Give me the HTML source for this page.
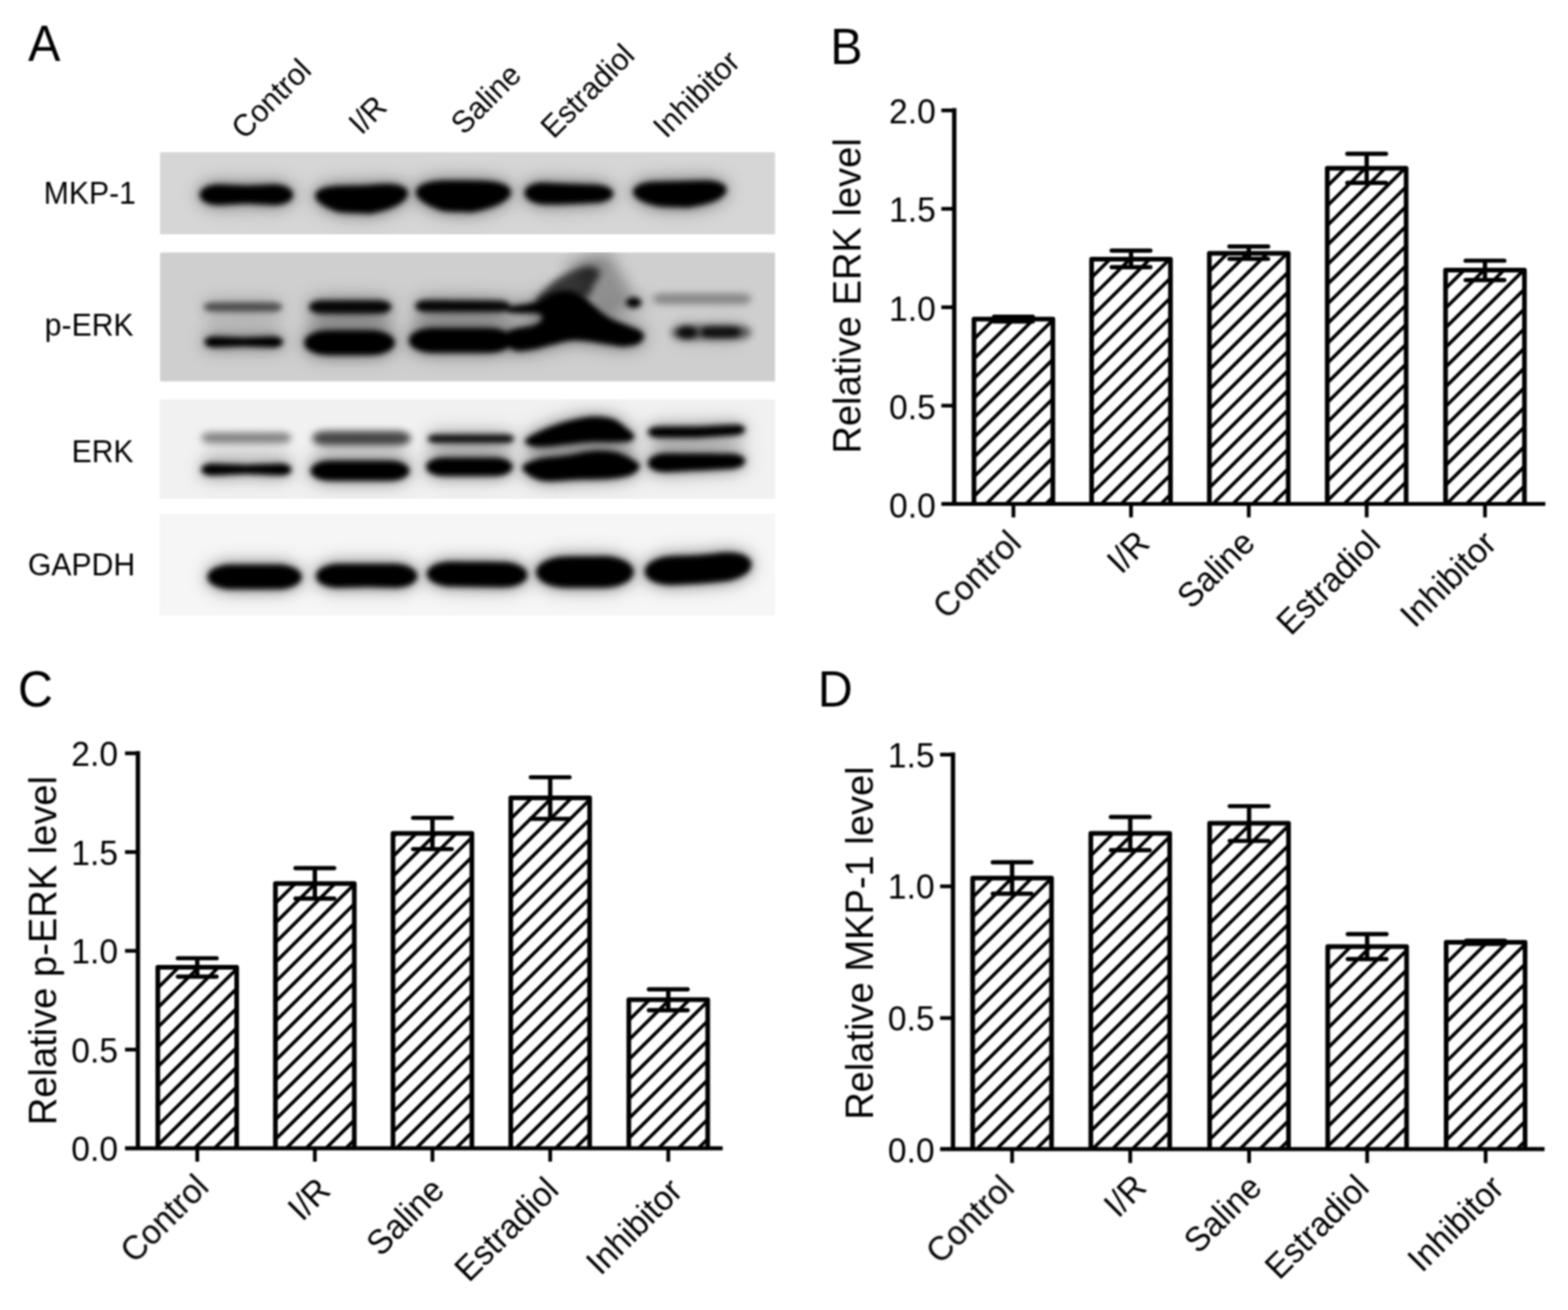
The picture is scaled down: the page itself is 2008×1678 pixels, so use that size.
<!DOCTYPE html>
<html lang="en"><head><meta charset="utf-8"><title>Figure: MKP-1, p-ERK and ERK levels</title>
<style>html,body{margin:0;padding:0;background:#fff;}body{width:2008px;height:1678px;overflow:hidden;}svg{display:block;}text{font-family:"Liberation Sans", sans-serif;fill:#000;}</style></head><body>
<svg width="2008" height="1678" viewBox="0 0 2008 1678">
<rect width="2008" height="1678" fill="#fff"/>
<defs><filter id="soft" filterUnits="userSpaceOnUse" x="0" y="0" width="2008" height="1678"><feGaussianBlur stdDeviation="0.8"/></filter></defs>
<defs><filter id="b2" filterUnits="userSpaceOnUse" x="150" y="150" width="900" height="680"><feGaussianBlur stdDeviation="2.6"/></filter><filter id="b3" filterUnits="userSpaceOnUse" x="150" y="150" width="900" height="680"><feGaussianBlur stdDeviation="3.5"/></filter><filter id="b5" filterUnits="userSpaceOnUse" x="150" y="150" width="900" height="680"><feGaussianBlur stdDeviation="5"/></filter><filter id="b9" filterUnits="userSpaceOnUse" x="150" y="150" width="900" height="680"><feGaussianBlur stdDeviation="9"/></filter><filter id="b16" filterUnits="userSpaceOnUse" x="150" y="150" width="900" height="680"><feGaussianBlur stdDeviation="15"/></filter><filter id="be" x="-5%" y="-5%" width="110%" height="110%"><feGaussianBlur stdDeviation="0.8"/></filter></defs><clipPath id="ks1"><rect x="205" y="195" width="787.5" height="105"/></clipPath><rect x="205" y="195" width="787.5" height="105" fill="#d6d6d6" filter="url(#be)"/><g clip-path="url(#ks1)"><g filter="url(#b16)" opacity="0.3"><path d="M255.5 249.5L257.0 245.0L258.5 243.2L259.9 242.0L260.0 241.9L261.5 240.9L263.0 240.1L264.4 239.4L264.5 239.4L266.0 238.8L267.5 238.3L268.8 237.9L273.3 237.0L277.7 236.6L282.2 236.6L286.6 236.8L291.1 237.0L295.5 237.2L299.9 237.4L304.4 237.5L308.8 237.7L313.3 237.9L317.7 237.9L322.2 237.7L326.6 237.5L331.1 237.4L335.5 237.2L339.9 237.0L344.4 236.8L348.8 236.6L353.3 236.6L357.7 237.0L362.2 237.9L363.5 238.3L365.0 238.8L366.5 239.4L366.6 239.4L368.0 240.1L369.5 240.9L371.0 241.9L371.1 242.0L372.5 243.2L374.0 245.0L375.5 249.5L375.5 249.5L374.0 254.0L372.5 255.8L371.1 257.0L371.0 257.0L369.5 258.0L368.0 258.9L366.6 259.5L366.5 259.6L365.0 260.2L363.5 260.6L362.2 261.0L357.7 261.9L353.3 262.3L348.8 262.2L344.4 261.9L339.9 261.7L335.5 261.5L331.1 261.3L326.6 261.1L322.2 260.8L317.7 260.6L313.3 260.6L308.8 260.8L304.4 261.1L299.9 261.3L295.5 261.5L291.1 261.7L286.6 261.9L282.2 262.2L277.7 262.3L273.3 261.9L268.8 261.0L267.5 260.6L266.0 260.2L264.5 259.6L264.4 259.5L263.0 258.9L261.5 258.0L260.0 257.0L259.9 257.0L258.5 255.8L257.0 254.0L255.5 249.5Z" fill="#000" opacity="1"/><path d="M403.5 250.5L405.0 246.5L406.5 245.0L407.9 244.0L408.0 244.0L409.4 243.1L410.9 242.4L412.3 241.9L412.4 241.8L413.9 241.3L415.4 240.9L416.7 240.5L421.1 239.6L425.5 239.0L429.9 238.5L434.4 238.3L438.8 238.2L443.2 238.2L447.6 238.1L452.0 238.1L456.4 238.1L460.8 238.0L465.2 237.8L469.6 237.5L474.0 237.2L478.4 236.8L482.8 236.5L487.2 236.2L491.6 235.9L496.1 235.8L500.5 235.9L504.9 236.4L509.3 237.1L510.6 237.5L512.1 237.9L513.6 238.4L513.7 238.4L515.1 239.0L516.5 239.7L518.0 240.5L518.1 240.6L519.5 241.6L521.0 243.2L522.5 247.5L522.5 247.5L521.0 252.3L519.5 254.3L518.1 255.9L518.0 255.9L516.5 257.3L515.1 258.5L513.7 259.5L513.6 259.5L512.1 260.5L510.6 261.4L509.3 262.2L504.9 264.4L500.5 266.3L496.1 267.9L491.6 269.2L487.2 270.4L482.8 271.5L478.4 272.6L474.0 273.5L469.6 273.2L465.2 273.0L460.8 272.8L456.4 272.6L452.0 272.4L447.6 272.2L443.2 272.0L438.8 271.8L434.4 271.5L429.9 270.2L425.5 268.5L421.1 266.6L416.7 264.4L415.4 263.6L413.9 262.7L412.4 261.8L412.3 261.7L410.9 260.8L409.4 259.6L408.0 258.3L407.9 258.3L406.5 256.8L405.0 254.9L403.5 250.5Z" fill="#000" opacity="1"/><path d="M532.5 246.0L534.0 241.5L535.5 239.8L537.0 238.7L537.1 238.6L538.6 237.7L540.1 236.8L541.5 236.2L541.6 236.2L543.2 235.5L544.7 235.0L546.1 234.6L550.6 233.5L555.1 232.7L559.6 232.1L564.1 231.7L568.6 231.5L573.2 231.5L577.7 231.5L582.2 231.5L586.7 231.5L591.2 231.5L595.8 231.5L600.3 231.6L604.8 231.7L609.3 231.8L613.8 231.8L618.4 231.9L622.9 232.1L627.4 232.4L631.9 233.0L636.4 233.8L640.9 234.9L642.3 235.3L643.8 235.8L645.4 236.4L645.5 236.4L646.9 237.1L648.4 237.9L649.9 238.8L650.0 238.9L651.5 240.0L653.0 241.7L654.5 246.0L654.5 246.0L653.0 250.7L651.5 252.7L650.0 254.2L649.9 254.2L648.4 255.5L646.9 256.7L645.5 257.6L645.4 257.7L643.8 258.7L642.3 259.5L640.9 260.3L636.4 262.4L631.9 264.2L627.4 265.8L622.9 267.2L618.4 268.4L613.8 269.5L609.3 270.6L604.8 271.5L600.3 271.4L595.8 271.2L591.2 271.1L586.7 271.0L582.2 270.9L577.7 270.7L573.2 270.6L568.6 270.3L564.1 268.9L559.6 267.3L555.1 265.5L550.6 263.5L546.1 261.1L544.7 260.3L543.2 259.4L541.6 258.3L541.5 258.3L540.1 257.2L538.6 256.0L537.1 254.6L537.0 254.6L535.5 253.0L534.0 250.9L532.5 246.0Z" fill="#000" opacity="1"/><path d="M671.5 247.0L672.9 242.6L674.4 240.8L675.7 239.6L675.8 239.6L677.2 238.6L678.6 237.8L679.9 237.2L680.0 237.1L681.5 236.5L682.9 236.0L684.2 235.7L688.4 234.7L692.6 234.3L696.8 234.2L701.1 234.4L705.3 234.7L709.5 235.0L713.7 235.3L717.9 235.5L722.2 235.6L726.4 235.8L730.6 235.9L734.8 236.0L739.1 236.1L743.3 236.3L747.5 236.4L751.7 236.5L755.9 236.6L760.2 236.8L764.4 236.9L768.6 237.3L772.8 238.2L774.1 238.5L775.5 238.9L777.0 239.5L777.1 239.5L778.4 240.1L779.8 240.8L781.2 241.6L781.3 241.7L782.6 242.7L784.1 244.2L785.5 248.0L785.5 248.0L784.1 251.8L782.6 253.3L781.3 254.4L781.2 254.4L779.8 255.3L778.4 256.1L777.1 256.6L777.0 256.7L775.5 257.2L774.1 257.7L772.8 258.0L768.6 258.9L764.4 259.4L760.2 259.6L755.9 259.8L751.7 260.0L747.5 260.2L743.3 260.4L739.1 260.5L734.8 260.7L730.6 260.9L726.4 261.1L722.2 261.3L717.9 261.5L713.7 261.5L709.5 261.5L705.3 261.5L701.1 261.5L696.8 261.5L692.6 261.1L688.4 260.4L684.2 259.2L682.9 258.7L681.5 258.1L680.0 257.4L679.9 257.4L678.6 256.7L677.2 255.8L675.8 254.7L675.7 254.6L674.4 253.3L672.9 251.5L671.5 247.0Z" fill="#000" opacity="1"/><path d="M810.5 245.5L812.0 241.4L813.5 239.9L814.9 238.8L815.0 238.8L816.5 237.9L818.0 237.1L819.4 236.5L819.5 236.5L821.0 235.9L822.5 235.5L823.8 235.1L828.3 234.1L832.7 233.5L837.2 233.1L841.6 233.0L846.1 232.9L850.5 232.8L854.9 232.8L859.4 232.7L863.8 232.6L868.3 232.5L872.7 232.4L877.2 232.3L881.6 232.1L886.1 232.0L890.5 231.8L894.9 231.7L899.4 231.5L903.8 231.5L908.3 231.6L912.7 232.1L917.2 232.9L918.5 233.2L920.0 233.6L921.5 234.1L921.6 234.2L923.0 234.7L924.5 235.4L926.0 236.3L926.1 236.3L927.5 237.4L929.0 238.9L930.5 243.0L930.5 243.0L929.0 247.5L927.5 249.4L926.1 250.8L926.0 250.8L924.5 252.0L923.0 253.1L921.6 254.0L921.5 254.1L920.0 254.9L918.5 255.7L917.2 256.3L912.7 258.2L908.3 259.7L903.8 261.0L899.4 262.0L894.9 262.9L890.5 263.8L886.1 264.8L881.6 265.5L877.2 265.4L872.7 265.2L868.3 265.1L863.8 265.0L859.4 264.9L854.9 264.7L850.5 264.6L846.1 264.4L841.6 263.5L837.2 262.6L832.7 261.5L828.3 260.0L823.8 258.3L822.5 257.7L821.0 256.9L819.5 256.1L819.4 256.0L818.0 255.2L816.5 254.2L815.0 253.0L814.9 253.0L813.5 251.7L812.0 249.8L810.5 245.5Z" fill="#000" opacity="1"/></g><g filter="url(#b9)" opacity="0.38"><path d="M255.5 249.5L257.0 245.0L258.5 243.2L259.9 242.0L260.0 241.9L261.5 240.9L263.0 240.1L264.4 239.4L264.5 239.4L266.0 238.8L267.5 238.3L268.8 237.9L273.3 237.0L277.7 236.6L282.2 236.6L286.6 236.8L291.1 237.0L295.5 237.2L299.9 237.4L304.4 237.5L308.8 237.7L313.3 237.9L317.7 237.9L322.2 237.7L326.6 237.5L331.1 237.4L335.5 237.2L339.9 237.0L344.4 236.8L348.8 236.6L353.3 236.6L357.7 237.0L362.2 237.9L363.5 238.3L365.0 238.8L366.5 239.4L366.6 239.4L368.0 240.1L369.5 240.9L371.0 241.9L371.1 242.0L372.5 243.2L374.0 245.0L375.5 249.5L375.5 249.5L374.0 254.0L372.5 255.8L371.1 257.0L371.0 257.0L369.5 258.0L368.0 258.9L366.6 259.5L366.5 259.6L365.0 260.2L363.5 260.6L362.2 261.0L357.7 261.9L353.3 262.3L348.8 262.2L344.4 261.9L339.9 261.7L335.5 261.5L331.1 261.3L326.6 261.1L322.2 260.8L317.7 260.6L313.3 260.6L308.8 260.8L304.4 261.1L299.9 261.3L295.5 261.5L291.1 261.7L286.6 261.9L282.2 262.2L277.7 262.3L273.3 261.9L268.8 261.0L267.5 260.6L266.0 260.2L264.5 259.6L264.4 259.5L263.0 258.9L261.5 258.0L260.0 257.0L259.9 257.0L258.5 255.8L257.0 254.0L255.5 249.5Z" fill="#000" opacity="1"/><path d="M403.5 250.5L405.0 246.5L406.5 245.0L407.9 244.0L408.0 244.0L409.4 243.1L410.9 242.4L412.3 241.9L412.4 241.8L413.9 241.3L415.4 240.9L416.7 240.5L421.1 239.6L425.5 239.0L429.9 238.5L434.4 238.3L438.8 238.2L443.2 238.2L447.6 238.1L452.0 238.1L456.4 238.1L460.8 238.0L465.2 237.8L469.6 237.5L474.0 237.2L478.4 236.8L482.8 236.5L487.2 236.2L491.6 235.9L496.1 235.8L500.5 235.9L504.9 236.4L509.3 237.1L510.6 237.5L512.1 237.9L513.6 238.4L513.7 238.4L515.1 239.0L516.5 239.7L518.0 240.5L518.1 240.6L519.5 241.6L521.0 243.2L522.5 247.5L522.5 247.5L521.0 252.3L519.5 254.3L518.1 255.9L518.0 255.9L516.5 257.3L515.1 258.5L513.7 259.5L513.6 259.5L512.1 260.5L510.6 261.4L509.3 262.2L504.9 264.4L500.5 266.3L496.1 267.9L491.6 269.2L487.2 270.4L482.8 271.5L478.4 272.6L474.0 273.5L469.6 273.2L465.2 273.0L460.8 272.8L456.4 272.6L452.0 272.4L447.6 272.2L443.2 272.0L438.8 271.8L434.4 271.5L429.9 270.2L425.5 268.5L421.1 266.6L416.7 264.4L415.4 263.6L413.9 262.7L412.4 261.8L412.3 261.7L410.9 260.8L409.4 259.6L408.0 258.3L407.9 258.3L406.5 256.8L405.0 254.9L403.5 250.5Z" fill="#000" opacity="1"/><path d="M532.5 246.0L534.0 241.5L535.5 239.8L537.0 238.7L537.1 238.6L538.6 237.7L540.1 236.8L541.5 236.2L541.6 236.2L543.2 235.5L544.7 235.0L546.1 234.6L550.6 233.5L555.1 232.7L559.6 232.1L564.1 231.7L568.6 231.5L573.2 231.5L577.7 231.5L582.2 231.5L586.7 231.5L591.2 231.5L595.8 231.5L600.3 231.6L604.8 231.7L609.3 231.8L613.8 231.8L618.4 231.9L622.9 232.1L627.4 232.4L631.9 233.0L636.4 233.8L640.9 234.9L642.3 235.3L643.8 235.8L645.4 236.4L645.5 236.4L646.9 237.1L648.4 237.9L649.9 238.8L650.0 238.9L651.5 240.0L653.0 241.7L654.5 246.0L654.5 246.0L653.0 250.7L651.5 252.7L650.0 254.2L649.9 254.2L648.4 255.5L646.9 256.7L645.5 257.6L645.4 257.7L643.8 258.7L642.3 259.5L640.9 260.3L636.4 262.4L631.9 264.2L627.4 265.8L622.9 267.2L618.4 268.4L613.8 269.5L609.3 270.6L604.8 271.5L600.3 271.4L595.8 271.2L591.2 271.1L586.7 271.0L582.2 270.9L577.7 270.7L573.2 270.6L568.6 270.3L564.1 268.9L559.6 267.3L555.1 265.5L550.6 263.5L546.1 261.1L544.7 260.3L543.2 259.4L541.6 258.3L541.5 258.3L540.1 257.2L538.6 256.0L537.1 254.6L537.0 254.6L535.5 253.0L534.0 250.9L532.5 246.0Z" fill="#000" opacity="1"/><path d="M671.5 247.0L672.9 242.6L674.4 240.8L675.7 239.6L675.8 239.6L677.2 238.6L678.6 237.8L679.9 237.2L680.0 237.1L681.5 236.5L682.9 236.0L684.2 235.7L688.4 234.7L692.6 234.3L696.8 234.2L701.1 234.4L705.3 234.7L709.5 235.0L713.7 235.3L717.9 235.5L722.2 235.6L726.4 235.8L730.6 235.9L734.8 236.0L739.1 236.1L743.3 236.3L747.5 236.4L751.7 236.5L755.9 236.6L760.2 236.8L764.4 236.9L768.6 237.3L772.8 238.2L774.1 238.5L775.5 238.9L777.0 239.5L777.1 239.5L778.4 240.1L779.8 240.8L781.2 241.6L781.3 241.7L782.6 242.7L784.1 244.2L785.5 248.0L785.5 248.0L784.1 251.8L782.6 253.3L781.3 254.4L781.2 254.4L779.8 255.3L778.4 256.1L777.1 256.6L777.0 256.7L775.5 257.2L774.1 257.7L772.8 258.0L768.6 258.9L764.4 259.4L760.2 259.6L755.9 259.8L751.7 260.0L747.5 260.2L743.3 260.4L739.1 260.5L734.8 260.7L730.6 260.9L726.4 261.1L722.2 261.3L717.9 261.5L713.7 261.5L709.5 261.5L705.3 261.5L701.1 261.5L696.8 261.5L692.6 261.1L688.4 260.4L684.2 259.2L682.9 258.7L681.5 258.1L680.0 257.4L679.9 257.4L678.6 256.7L677.2 255.8L675.8 254.7L675.7 254.6L674.4 253.3L672.9 251.5L671.5 247.0Z" fill="#000" opacity="1"/><path d="M810.5 245.5L812.0 241.4L813.5 239.9L814.9 238.8L815.0 238.8L816.5 237.9L818.0 237.1L819.4 236.5L819.5 236.5L821.0 235.9L822.5 235.5L823.8 235.1L828.3 234.1L832.7 233.5L837.2 233.1L841.6 233.0L846.1 232.9L850.5 232.8L854.9 232.8L859.4 232.7L863.8 232.6L868.3 232.5L872.7 232.4L877.2 232.3L881.6 232.1L886.1 232.0L890.5 231.8L894.9 231.7L899.4 231.5L903.8 231.5L908.3 231.6L912.7 232.1L917.2 232.9L918.5 233.2L920.0 233.6L921.5 234.1L921.6 234.2L923.0 234.7L924.5 235.4L926.0 236.3L926.1 236.3L927.5 237.4L929.0 238.9L930.5 243.0L930.5 243.0L929.0 247.5L927.5 249.4L926.1 250.8L926.0 250.8L924.5 252.0L923.0 253.1L921.6 254.0L921.5 254.1L920.0 254.9L918.5 255.7L917.2 256.3L912.7 258.2L908.3 259.7L903.8 261.0L899.4 262.0L894.9 262.9L890.5 263.8L886.1 264.8L881.6 265.5L877.2 265.4L872.7 265.2L868.3 265.1L863.8 265.0L859.4 264.9L854.9 264.7L850.5 264.6L846.1 264.4L841.6 263.5L837.2 262.6L832.7 261.5L828.3 260.0L823.8 258.3L822.5 257.7L821.0 256.9L819.5 256.1L819.4 256.0L818.0 255.2L816.5 254.2L815.0 253.0L814.9 253.0L813.5 251.7L812.0 249.8L810.5 245.5Z" fill="#000" opacity="1"/></g><g filter="url(#b3)"><path d="M255.5 249.5L257.0 245.0L258.5 243.2L259.9 242.0L260.0 241.9L261.5 240.9L263.0 240.1L264.4 239.4L264.5 239.4L266.0 238.8L267.5 238.3L268.8 237.9L273.3 237.0L277.7 236.6L282.2 236.6L286.6 236.8L291.1 237.0L295.5 237.2L299.9 237.4L304.4 237.5L308.8 237.7L313.3 237.9L317.7 237.9L322.2 237.7L326.6 237.5L331.1 237.4L335.5 237.2L339.9 237.0L344.4 236.8L348.8 236.6L353.3 236.6L357.7 237.0L362.2 237.9L363.5 238.3L365.0 238.8L366.5 239.4L366.6 239.4L368.0 240.1L369.5 240.9L371.0 241.9L371.1 242.0L372.5 243.2L374.0 245.0L375.5 249.5L375.5 249.5L374.0 254.0L372.5 255.8L371.1 257.0L371.0 257.0L369.5 258.0L368.0 258.9L366.6 259.5L366.5 259.6L365.0 260.2L363.5 260.6L362.2 261.0L357.7 261.9L353.3 262.3L348.8 262.2L344.4 261.9L339.9 261.7L335.5 261.5L331.1 261.3L326.6 261.1L322.2 260.8L317.7 260.6L313.3 260.6L308.8 260.8L304.4 261.1L299.9 261.3L295.5 261.5L291.1 261.7L286.6 261.9L282.2 262.2L277.7 262.3L273.3 261.9L268.8 261.0L267.5 260.6L266.0 260.2L264.5 259.6L264.4 259.5L263.0 258.9L261.5 258.0L260.0 257.0L259.9 257.0L258.5 255.8L257.0 254.0L255.5 249.5Z" fill="#000" opacity="1"/><path d="M403.5 250.5L405.0 246.5L406.5 245.0L407.9 244.0L408.0 244.0L409.4 243.1L410.9 242.4L412.3 241.9L412.4 241.8L413.9 241.3L415.4 240.9L416.7 240.5L421.1 239.6L425.5 239.0L429.9 238.5L434.4 238.3L438.8 238.2L443.2 238.2L447.6 238.1L452.0 238.1L456.4 238.1L460.8 238.0L465.2 237.8L469.6 237.5L474.0 237.2L478.4 236.8L482.8 236.5L487.2 236.2L491.6 235.9L496.1 235.8L500.5 235.9L504.9 236.4L509.3 237.1L510.6 237.5L512.1 237.9L513.6 238.4L513.7 238.4L515.1 239.0L516.5 239.7L518.0 240.5L518.1 240.6L519.5 241.6L521.0 243.2L522.5 247.5L522.5 247.5L521.0 252.3L519.5 254.3L518.1 255.9L518.0 255.9L516.5 257.3L515.1 258.5L513.7 259.5L513.6 259.5L512.1 260.5L510.6 261.4L509.3 262.2L504.9 264.4L500.5 266.3L496.1 267.9L491.6 269.2L487.2 270.4L482.8 271.5L478.4 272.6L474.0 273.5L469.6 273.2L465.2 273.0L460.8 272.8L456.4 272.6L452.0 272.4L447.6 272.2L443.2 272.0L438.8 271.8L434.4 271.5L429.9 270.2L425.5 268.5L421.1 266.6L416.7 264.4L415.4 263.6L413.9 262.7L412.4 261.8L412.3 261.7L410.9 260.8L409.4 259.6L408.0 258.3L407.9 258.3L406.5 256.8L405.0 254.9L403.5 250.5Z" fill="#000" opacity="1"/><path d="M532.5 246.0L534.0 241.5L535.5 239.8L537.0 238.7L537.1 238.6L538.6 237.7L540.1 236.8L541.5 236.2L541.6 236.2L543.2 235.5L544.7 235.0L546.1 234.6L550.6 233.5L555.1 232.7L559.6 232.1L564.1 231.7L568.6 231.5L573.2 231.5L577.7 231.5L582.2 231.5L586.7 231.5L591.2 231.5L595.8 231.5L600.3 231.6L604.8 231.7L609.3 231.8L613.8 231.8L618.4 231.9L622.9 232.1L627.4 232.4L631.9 233.0L636.4 233.8L640.9 234.9L642.3 235.3L643.8 235.8L645.4 236.4L645.5 236.4L646.9 237.1L648.4 237.9L649.9 238.8L650.0 238.9L651.5 240.0L653.0 241.7L654.5 246.0L654.5 246.0L653.0 250.7L651.5 252.7L650.0 254.2L649.9 254.2L648.4 255.5L646.9 256.7L645.5 257.6L645.4 257.7L643.8 258.7L642.3 259.5L640.9 260.3L636.4 262.4L631.9 264.2L627.4 265.8L622.9 267.2L618.4 268.4L613.8 269.5L609.3 270.6L604.8 271.5L600.3 271.4L595.8 271.2L591.2 271.1L586.7 271.0L582.2 270.9L577.7 270.7L573.2 270.6L568.6 270.3L564.1 268.9L559.6 267.3L555.1 265.5L550.6 263.5L546.1 261.1L544.7 260.3L543.2 259.4L541.6 258.3L541.5 258.3L540.1 257.2L538.6 256.0L537.1 254.6L537.0 254.6L535.5 253.0L534.0 250.9L532.5 246.0Z" fill="#000" opacity="1"/><path d="M671.5 247.0L672.9 242.6L674.4 240.8L675.7 239.6L675.8 239.6L677.2 238.6L678.6 237.8L679.9 237.2L680.0 237.1L681.5 236.5L682.9 236.0L684.2 235.7L688.4 234.7L692.6 234.3L696.8 234.2L701.1 234.4L705.3 234.7L709.5 235.0L713.7 235.3L717.9 235.5L722.2 235.6L726.4 235.8L730.6 235.9L734.8 236.0L739.1 236.1L743.3 236.3L747.5 236.4L751.7 236.5L755.9 236.6L760.2 236.8L764.4 236.9L768.6 237.3L772.8 238.2L774.1 238.5L775.5 238.9L777.0 239.5L777.1 239.5L778.4 240.1L779.8 240.8L781.2 241.6L781.3 241.7L782.6 242.7L784.1 244.2L785.5 248.0L785.5 248.0L784.1 251.8L782.6 253.3L781.3 254.4L781.2 254.4L779.8 255.3L778.4 256.1L777.1 256.6L777.0 256.7L775.5 257.2L774.1 257.7L772.8 258.0L768.6 258.9L764.4 259.4L760.2 259.6L755.9 259.8L751.7 260.0L747.5 260.2L743.3 260.4L739.1 260.5L734.8 260.7L730.6 260.9L726.4 261.1L722.2 261.3L717.9 261.5L713.7 261.5L709.5 261.5L705.3 261.5L701.1 261.5L696.8 261.5L692.6 261.1L688.4 260.4L684.2 259.2L682.9 258.7L681.5 258.1L680.0 257.4L679.9 257.4L678.6 256.7L677.2 255.8L675.8 254.7L675.7 254.6L674.4 253.3L672.9 251.5L671.5 247.0Z" fill="#000" opacity="1"/><path d="M810.5 245.5L812.0 241.4L813.5 239.9L814.9 238.8L815.0 238.8L816.5 237.9L818.0 237.1L819.4 236.5L819.5 236.5L821.0 235.9L822.5 235.5L823.8 235.1L828.3 234.1L832.7 233.5L837.2 233.1L841.6 233.0L846.1 232.9L850.5 232.8L854.9 232.8L859.4 232.7L863.8 232.6L868.3 232.5L872.7 232.4L877.2 232.3L881.6 232.1L886.1 232.0L890.5 231.8L894.9 231.7L899.4 231.5L903.8 231.5L908.3 231.6L912.7 232.1L917.2 232.9L918.5 233.2L920.0 233.6L921.5 234.1L921.6 234.2L923.0 234.7L924.5 235.4L926.0 236.3L926.1 236.3L927.5 237.4L929.0 238.9L930.5 243.0L930.5 243.0L929.0 247.5L927.5 249.4L926.1 250.8L926.0 250.8L924.5 252.0L923.0 253.1L921.6 254.0L921.5 254.1L920.0 254.9L918.5 255.7L917.2 256.3L912.7 258.2L908.3 259.7L903.8 261.0L899.4 262.0L894.9 262.9L890.5 263.8L886.1 264.8L881.6 265.5L877.2 265.4L872.7 265.2L868.3 265.1L863.8 265.0L859.4 264.9L854.9 264.7L850.5 264.6L846.1 264.4L841.6 263.5L837.2 262.6L832.7 261.5L828.3 260.0L823.8 258.3L822.5 257.7L821.0 256.9L819.5 256.1L819.4 256.0L818.0 255.2L816.5 254.2L815.0 253.0L814.9 253.0L813.5 251.7L812.0 249.8L810.5 245.5Z" fill="#000" opacity="1"/></g></g><clipPath id="ks2"><rect x="205" y="323.5" width="787.5" height="165"/></clipPath><rect x="205" y="323.5" width="787.5" height="165" fill="#cfcfcf" filter="url(#be)"/><g clip-path="url(#ks2)"><g filter="url(#b16)" opacity="0.3"><path d="M260.5 393.2L261.8 390.6L263.0 389.7L264.2 389.0L264.3 389.0L265.6 388.5L266.8 388.1L268.0 387.9L268.1 387.8L269.3 387.7L270.6 387.5L271.7 387.5L275.5 387.5L279.2 387.5L282.9 387.5L286.7 387.5L290.4 387.5L294.2 387.5L297.9 387.5L301.6 387.5L305.4 387.5L309.1 387.5L312.9 387.5L316.6 387.5L320.4 387.5L324.1 387.5L327.8 387.5L331.6 387.5L335.3 387.5L339.1 387.5L342.8 387.5L346.5 387.5L350.3 387.5L351.4 387.5L352.7 387.7L353.9 387.8L354.0 387.9L355.2 388.1L356.4 388.5L357.7 389.0L357.8 389.0L359.0 389.7L360.2 390.6L361.5 393.2L361.5 393.2L360.2 395.9L359.0 396.8L357.8 397.5L357.7 397.5L356.4 398.0L355.2 398.4L354.0 398.6L353.9 398.7L352.7 398.8L351.4 399.0L350.3 399.0L346.5 399.0L342.8 399.0L339.1 399.0L335.3 399.0L331.6 399.0L327.8 399.0L324.1 399.0L320.4 399.0L316.6 399.0L312.9 399.0L309.1 399.0L305.4 399.0L301.6 399.0L297.9 399.0L294.2 399.0L290.4 399.0L286.7 399.0L282.9 399.0L279.2 399.0L275.5 399.0L271.7 399.0L270.6 399.0L269.3 398.8L268.1 398.7L268.0 398.6L266.8 398.4L265.6 398.0L264.3 397.5L264.2 397.5L263.0 396.8L261.8 395.9L260.5 393.2Z" fill="#000" opacity="0.55"/><path d="M261.5 438.0L262.8 435.0L264.0 433.9L265.2 433.1L265.3 433.1L266.6 432.5L267.8 432.0L269.0 431.7L269.1 431.7L270.3 431.4L271.6 431.2L272.7 431.1L276.5 431.1L280.2 431.2L283.9 431.4L287.7 431.5L291.4 431.7L295.2 431.8L298.9 432.0L302.6 432.1L306.4 432.3L310.1 432.4L313.9 432.4L317.6 432.3L321.4 432.1L325.1 432.0L328.8 431.8L332.6 431.7L336.3 431.5L340.1 431.4L343.8 431.2L347.5 431.1L351.3 431.1L352.4 431.2L353.7 431.4L354.9 431.7L355.0 431.7L356.2 432.0L357.4 432.5L358.7 433.1L358.8 433.1L360.0 433.9L361.2 435.0L362.5 438.0L362.5 438.0L361.2 441.0L360.0 442.1L358.8 442.9L358.7 442.9L357.4 443.5L356.2 444.0L355.0 444.3L354.9 444.3L353.7 444.6L352.4 444.8L351.3 444.9L347.5 444.9L343.8 444.8L340.1 444.6L336.3 444.5L332.6 444.3L328.8 444.2L325.1 444.0L321.4 443.9L317.6 443.7L313.9 443.6L310.1 443.6L306.4 443.7L302.6 443.9L298.9 444.0L295.2 444.2L291.4 444.3L287.7 444.5L283.9 444.6L280.2 444.8L276.5 444.9L272.7 444.9L271.6 444.8L270.3 444.6L269.1 444.3L269.0 444.3L267.8 444.0L266.6 443.5L265.3 442.9L265.2 442.9L264.0 442.1L262.8 441.0L261.5 438.0Z" fill="#000" opacity="1"/><path d="M395.5 393.2L396.8 390.0L398.1 388.8L399.4 387.9L399.5 387.9L400.8 387.2L402.1 386.6L403.4 386.2L403.4 386.2L404.8 385.8L406.1 385.5L407.3 385.3L411.2 385.0L415.1 385.0L419.1 385.0L423.0 385.0L426.9 385.0L430.8 385.0L434.8 385.0L438.7 385.0L442.6 385.0L446.5 385.0L450.5 385.0L454.4 385.0L458.3 385.0L462.2 385.0L466.2 385.0L470.1 385.0L474.0 385.0L477.9 385.0L481.9 385.0L485.8 385.0L489.7 385.3L490.9 385.5L492.2 385.8L493.6 386.2L493.6 386.2L494.9 386.6L496.2 387.2L497.5 387.9L497.6 387.9L498.9 388.8L500.2 390.0L501.5 393.2L501.5 393.2L500.2 396.5L498.9 397.7L497.6 398.6L497.5 398.6L496.2 399.3L494.9 399.9L493.6 400.3L493.6 400.3L492.2 400.7L490.9 401.0L489.7 401.2L485.8 401.5L481.9 401.5L477.9 401.5L474.0 401.5L470.1 401.5L466.2 401.5L462.2 401.5L458.3 401.5L454.4 401.5L450.5 401.5L446.5 401.5L442.6 401.5L438.7 401.5L434.8 401.5L430.8 401.5L426.9 401.5L423.0 401.5L419.1 401.5L415.1 401.5L411.2 401.5L407.3 401.2L406.1 401.0L404.8 400.7L403.4 400.3L403.4 400.3L402.1 399.9L400.8 399.3L399.5 398.6L399.4 398.6L398.1 397.7L396.8 396.5L395.5 393.2Z" fill="#000" opacity="0.95"/><path d="M389.5 439.0L390.9 434.3L392.4 432.5L393.8 431.1L393.9 431.1L395.3 430.0L396.8 429.0L398.1 428.3L398.2 428.2L399.6 427.5L401.1 426.9L402.4 426.4L406.7 425.1L411.0 424.2L415.3 423.7L419.6 423.5L423.9 423.5L428.2 423.5L432.5 423.5L436.8 423.5L441.1 423.5L445.4 423.5L449.6 423.5L453.9 423.5L458.2 423.5L462.5 423.5L466.8 423.5L471.1 423.5L475.4 423.5L479.7 423.7L484.0 424.2L488.3 425.1L492.6 426.4L493.9 426.9L495.4 427.5L496.8 428.2L496.9 428.3L498.2 429.0L499.7 430.0L501.1 431.1L501.2 431.1L502.6 432.5L504.1 434.3L505.5 439.0L505.5 439.0L504.1 443.7L502.6 445.5L501.2 446.9L501.1 446.9L499.7 448.0L498.2 449.0L496.9 449.7L496.8 449.8L495.4 450.5L493.9 451.1L492.6 451.6L488.3 452.9L484.0 453.8L479.7 454.3L475.4 454.5L471.1 454.5L466.8 454.5L462.5 454.5L458.2 454.5L453.9 454.5L449.6 454.5L445.4 454.5L441.1 454.5L436.8 454.5L432.5 454.5L428.2 454.5L423.9 454.5L419.6 454.5L415.3 454.3L411.0 453.8L406.7 452.9L402.4 451.6L401.1 451.1L399.6 450.5L398.2 449.8L398.1 449.7L396.8 449.0L395.3 448.0L393.9 446.9L393.8 446.9L392.4 445.5L390.9 443.7L389.5 439.0Z" fill="#000" opacity="1"/><path d="M531.5 392.0L533.0 388.7L534.5 387.5L536.0 386.7L536.1 386.6L537.6 386.0L539.1 385.5L540.5 385.2L540.6 385.2L542.2 384.9L543.7 384.7L545.1 384.6L549.6 384.6L554.1 384.7L558.6 384.7L563.1 384.8L567.6 384.8L572.2 384.8L576.7 384.9L581.2 384.9L585.7 384.9L590.2 385.0L594.8 385.0L599.3 385.1L603.8 385.1L608.3 385.1L612.8 385.2L617.4 385.2L621.9 385.2L626.4 385.3L630.9 385.3L635.4 385.4L639.9 385.4L641.3 385.5L642.8 385.6L644.4 385.9L644.5 385.9L645.9 386.2L647.4 386.7L648.9 387.3L649.0 387.3L650.5 388.1L652.0 389.3L653.5 392.5L653.5 392.5L652.0 395.7L650.5 396.9L649.0 397.6L648.9 397.7L647.4 398.3L645.9 398.7L644.5 399.0L644.4 399.1L642.8 399.3L641.3 399.4L639.9 399.5L635.4 399.5L630.9 399.5L626.4 399.5L621.9 399.5L617.4 399.5L612.8 399.5L608.3 399.5L603.8 399.5L599.3 399.5L594.8 399.5L590.2 399.5L585.7 399.5L581.2 399.5L576.7 399.5L572.2 399.5L567.6 399.5L563.1 399.5L558.6 399.5L554.1 399.5L549.6 399.5L545.1 399.5L543.7 399.4L542.2 399.2L540.6 398.9L540.5 398.9L539.1 398.5L537.6 398.0L536.1 397.4L536.0 397.4L534.5 396.5L533.0 395.3L531.5 392.0Z" fill="#000" opacity="0.95"/><path d="M523.5 436.0L525.2 431.0L526.8 429.0L528.4 427.6L528.5 427.6L530.1 426.4L531.8 425.4L533.4 424.7L533.5 424.6L535.1 423.9L536.8 423.3L538.3 422.8L543.2 421.6L548.1 420.8L553.1 420.5L558.0 420.5L562.9 420.5L567.8 420.5L572.8 420.5L577.7 420.5L582.6 420.5L587.5 420.5L592.5 420.5L597.4 420.5L602.3 420.5L607.2 420.5L612.2 420.5L617.1 420.5L622.0 420.5L626.9 420.5L631.9 420.8L636.8 421.6L641.7 422.8L643.2 423.3L644.9 423.9L646.5 424.6L646.6 424.7L648.2 425.4L649.9 426.4L651.5 427.6L651.6 427.6L653.2 429.0L654.8 431.0L656.5 436.0L656.5 436.0L654.8 441.0L653.2 443.0L651.6 444.4L651.5 444.4L649.9 445.6L648.2 446.6L646.6 447.3L646.5 447.4L644.9 448.1L643.2 448.7L641.7 449.2L636.8 450.4L631.9 451.2L626.9 451.5L622.0 451.5L617.1 451.5L612.2 451.5L607.2 451.5L602.3 451.5L597.4 451.5L592.5 451.5L587.5 451.5L582.6 451.5L577.7 451.5L572.8 451.5L567.8 451.5L562.9 451.5L558.0 451.5L553.1 451.5L548.1 451.2L543.2 450.4L538.3 449.2L536.8 448.7L535.1 448.1L533.5 447.4L533.4 447.3L531.8 446.6L530.1 445.6L528.5 444.4L528.4 444.4L526.8 443.0L525.2 441.0L523.5 436.0Z" fill="#000" opacity="1"/><path d="M652 393C657.33 390.92 674.83 390.25 684 387.5C693.17 384.75 700 378.92 707 376.5C714 374.08 719.67 372.58 726 373C732.33 373.42 739.78 376.25 745 379C750.22 381.75 751.77 384.97 757.3 389.5C762.83 394.03 771.22 401.85 778.2 406.2C785.18 410.55 792.23 412.63 799.2 415.6C806.17 418.57 815.82 421.38 820 424C824.18 426.62 824.63 428.68 824.3 431.3C823.97 433.92 822.18 437.68 818 439.7C813.82 441.72 805.83 443.23 799.2 443.4C792.57 443.57 788.67 442.02 778.2 440.7C767.73 439.38 748.6 435.32 736.4 435.5C724.2 435.68 713.72 439.88 705 441.8C696.28 443.72 691.6 445.8 684.1 447C676.6 448.2 666.02 450.5 660 449C653.98 447.5 649.33 442.17 648 438C646.67 433.83 645.98 427.55 652 424C658.02 420.45 677 419.32 684.1 416.7C691.2 414.08 693.55 410.75 694.6 408.3C695.65 405.85 693.88 403.22 690.4 402C686.92 400.78 680.1 401.33 673.7 401C667.3 400.67 655.62 401.33 652 400C648.38 398.67 646.67 395.08 652 393Z" fill="#000" opacity="1"/><path d="M801.5 387.5L801.8 386.2L802.0 385.6L802.2 385.3L802.2 385.2L802.5 384.9L802.8 384.6L803.0 384.4L803.0 384.3L803.2 384.1L803.5 383.9L803.7 383.7L804.5 383.2L805.2 382.8L805.9 382.4L806.7 382.1L807.4 381.8L808.2 381.5L808.9 381.3L809.6 381.1L810.4 381.0L811.1 380.8L811.9 380.8L812.6 381.0L813.4 381.1L814.1 381.3L814.8 381.5L815.6 381.8L816.3 382.1L817.1 382.4L817.8 382.8L818.5 383.2L819.3 383.7L819.5 383.9L819.8 384.1L820.0 384.3L820.0 384.4L820.2 384.6L820.5 384.9L820.8 385.2L820.8 385.3L821.0 385.6L821.2 386.2L821.5 387.5L821.5 387.5L821.2 388.8L821.0 389.4L820.8 389.7L820.8 389.8L820.5 390.1L820.2 390.4L820.0 390.6L820.0 390.7L819.8 390.9L819.5 391.1L819.3 391.3L818.5 391.8L817.8 392.2L817.1 392.6L816.3 392.9L815.6 393.2L814.8 393.5L814.1 393.7L813.4 393.9L812.6 394.0L811.9 394.2L811.1 394.2L810.4 394.0L809.6 393.9L808.9 393.7L808.2 393.5L807.4 393.2L806.7 392.9L805.9 392.6L805.2 392.2L804.5 391.8L803.7 391.3L803.5 391.1L803.2 390.9L803.0 390.7L803.0 390.6L802.8 390.4L802.5 390.1L802.2 389.8L802.2 389.7L802.0 389.4L801.8 388.8L801.5 387.5Z" fill="#000" opacity="1"/><path d="M867.5 426.0L867.8 424.5L868.1 423.9L868.4 423.5L868.4 423.5L868.8 423.1L869.1 422.8L869.4 422.5L869.4 422.5L869.7 422.2L870.0 422.0L870.3 421.8L871.2 421.3L872.1 420.8L873.1 420.4L874.0 420.1L874.9 419.8L875.8 419.6L876.8 419.4L877.7 419.3L878.6 419.2L879.5 419.1L880.5 419.1L881.4 419.2L882.3 419.3L883.2 419.4L884.2 419.6L885.1 419.8L886.0 420.1L886.9 420.4L887.9 420.8L888.8 421.3L889.7 421.8L890.0 422.0L890.3 422.2L890.6 422.5L890.6 422.5L890.9 422.8L891.2 423.1L891.6 423.5L891.6 423.5L891.9 423.9L892.2 424.5L892.5 426.0L892.5 426.0L892.2 427.5L891.9 428.1L891.6 428.5L891.6 428.5L891.2 428.9L890.9 429.2L890.6 429.5L890.6 429.5L890.3 429.8L890.0 430.0L889.7 430.2L888.8 430.7L887.9 431.2L886.9 431.6L886.0 431.9L885.1 432.2L884.2 432.4L883.2 432.6L882.3 432.7L881.4 432.8L880.5 432.9L879.5 432.9L878.6 432.8L877.7 432.7L876.8 432.6L875.8 432.4L874.9 432.2L874.0 431.9L873.1 431.6L872.1 431.2L871.2 430.7L870.3 430.2L870.0 430.0L869.7 429.8L869.4 429.5L869.4 429.5L869.1 429.2L868.8 428.9L868.4 428.5L868.4 428.5L868.1 428.1L867.8 427.5L867.5 426.0Z" fill="#000" opacity="0.85"/><path d="M897.5 425.5L898.1 423.6L898.8 422.8L899.4 422.3L899.4 422.3L900.0 421.8L900.7 421.4L901.3 421.1L901.3 421.1L902.0 420.8L902.6 420.6L903.2 420.4L905.1 419.9L906.9 419.6L908.8 419.5L910.7 419.5L912.6 419.5L914.5 419.5L916.4 419.5L918.3 419.5L920.2 419.5L922.1 419.5L923.9 419.5L925.8 419.5L927.7 419.5L929.6 419.5L931.5 419.5L933.4 419.5L935.3 419.5L937.2 419.5L939.1 419.6L940.9 419.9L942.8 420.4L943.4 420.6L944.0 420.8L944.7 421.1L944.7 421.1L945.3 421.4L946.0 421.8L946.6 422.3L946.6 422.3L947.2 422.8L947.9 423.6L948.5 425.5L948.5 425.5L947.9 427.4L947.2 428.2L946.6 428.7L946.6 428.7L946.0 429.2L945.3 429.6L944.7 429.9L944.7 429.9L944.0 430.2L943.4 430.4L942.8 430.6L940.9 431.1L939.1 431.4L937.2 431.5L935.3 431.5L933.4 431.5L931.5 431.5L929.6 431.5L927.7 431.5L925.8 431.5L923.9 431.5L922.1 431.5L920.2 431.5L918.3 431.5L916.4 431.5L914.5 431.5L912.6 431.5L910.7 431.5L908.8 431.5L906.9 431.4L905.1 431.1L903.2 430.6L902.6 430.4L902.0 430.2L901.3 429.9L901.3 429.9L900.7 429.6L900.0 429.2L899.4 428.7L899.4 428.7L898.8 428.2L898.1 427.4L897.5 425.5Z" fill="#000" opacity="0.8"/></g><g filter="url(#b9)" opacity="0.38"><path d="M260.5 393.2L261.8 390.6L263.0 389.7L264.2 389.0L264.3 389.0L265.6 388.5L266.8 388.1L268.0 387.9L268.1 387.8L269.3 387.7L270.6 387.5L271.7 387.5L275.5 387.5L279.2 387.5L282.9 387.5L286.7 387.5L290.4 387.5L294.2 387.5L297.9 387.5L301.6 387.5L305.4 387.5L309.1 387.5L312.9 387.5L316.6 387.5L320.4 387.5L324.1 387.5L327.8 387.5L331.6 387.5L335.3 387.5L339.1 387.5L342.8 387.5L346.5 387.5L350.3 387.5L351.4 387.5L352.7 387.7L353.9 387.8L354.0 387.9L355.2 388.1L356.4 388.5L357.7 389.0L357.8 389.0L359.0 389.7L360.2 390.6L361.5 393.2L361.5 393.2L360.2 395.9L359.0 396.8L357.8 397.5L357.7 397.5L356.4 398.0L355.2 398.4L354.0 398.6L353.9 398.7L352.7 398.8L351.4 399.0L350.3 399.0L346.5 399.0L342.8 399.0L339.1 399.0L335.3 399.0L331.6 399.0L327.8 399.0L324.1 399.0L320.4 399.0L316.6 399.0L312.9 399.0L309.1 399.0L305.4 399.0L301.6 399.0L297.9 399.0L294.2 399.0L290.4 399.0L286.7 399.0L282.9 399.0L279.2 399.0L275.5 399.0L271.7 399.0L270.6 399.0L269.3 398.8L268.1 398.7L268.0 398.6L266.8 398.4L265.6 398.0L264.3 397.5L264.2 397.5L263.0 396.8L261.8 395.9L260.5 393.2Z" fill="#000" opacity="0.55"/><path d="M261.5 438.0L262.8 435.0L264.0 433.9L265.2 433.1L265.3 433.1L266.6 432.5L267.8 432.0L269.0 431.7L269.1 431.7L270.3 431.4L271.6 431.2L272.7 431.1L276.5 431.1L280.2 431.2L283.9 431.4L287.7 431.5L291.4 431.7L295.2 431.8L298.9 432.0L302.6 432.1L306.4 432.3L310.1 432.4L313.9 432.4L317.6 432.3L321.4 432.1L325.1 432.0L328.8 431.8L332.6 431.7L336.3 431.5L340.1 431.4L343.8 431.2L347.5 431.1L351.3 431.1L352.4 431.2L353.7 431.4L354.9 431.7L355.0 431.7L356.2 432.0L357.4 432.5L358.7 433.1L358.8 433.1L360.0 433.9L361.2 435.0L362.5 438.0L362.5 438.0L361.2 441.0L360.0 442.1L358.8 442.9L358.7 442.9L357.4 443.5L356.2 444.0L355.0 444.3L354.9 444.3L353.7 444.6L352.4 444.8L351.3 444.9L347.5 444.9L343.8 444.8L340.1 444.6L336.3 444.5L332.6 444.3L328.8 444.2L325.1 444.0L321.4 443.9L317.6 443.7L313.9 443.6L310.1 443.6L306.4 443.7L302.6 443.9L298.9 444.0L295.2 444.2L291.4 444.3L287.7 444.5L283.9 444.6L280.2 444.8L276.5 444.9L272.7 444.9L271.6 444.8L270.3 444.6L269.1 444.3L269.0 444.3L267.8 444.0L266.6 443.5L265.3 442.9L265.2 442.9L264.0 442.1L262.8 441.0L261.5 438.0Z" fill="#000" opacity="1"/><path d="M395.5 393.2L396.8 390.0L398.1 388.8L399.4 387.9L399.5 387.9L400.8 387.2L402.1 386.6L403.4 386.2L403.4 386.2L404.8 385.8L406.1 385.5L407.3 385.3L411.2 385.0L415.1 385.0L419.1 385.0L423.0 385.0L426.9 385.0L430.8 385.0L434.8 385.0L438.7 385.0L442.6 385.0L446.5 385.0L450.5 385.0L454.4 385.0L458.3 385.0L462.2 385.0L466.2 385.0L470.1 385.0L474.0 385.0L477.9 385.0L481.9 385.0L485.8 385.0L489.7 385.3L490.9 385.5L492.2 385.8L493.6 386.2L493.6 386.2L494.9 386.6L496.2 387.2L497.5 387.9L497.6 387.9L498.9 388.8L500.2 390.0L501.5 393.2L501.5 393.2L500.2 396.5L498.9 397.7L497.6 398.6L497.5 398.6L496.2 399.3L494.9 399.9L493.6 400.3L493.6 400.3L492.2 400.7L490.9 401.0L489.7 401.2L485.8 401.5L481.9 401.5L477.9 401.5L474.0 401.5L470.1 401.5L466.2 401.5L462.2 401.5L458.3 401.5L454.4 401.5L450.5 401.5L446.5 401.5L442.6 401.5L438.7 401.5L434.8 401.5L430.8 401.5L426.9 401.5L423.0 401.5L419.1 401.5L415.1 401.5L411.2 401.5L407.3 401.2L406.1 401.0L404.8 400.7L403.4 400.3L403.4 400.3L402.1 399.9L400.8 399.3L399.5 398.6L399.4 398.6L398.1 397.7L396.8 396.5L395.5 393.2Z" fill="#000" opacity="0.95"/><path d="M389.5 439.0L390.9 434.3L392.4 432.5L393.8 431.1L393.9 431.1L395.3 430.0L396.8 429.0L398.1 428.3L398.2 428.2L399.6 427.5L401.1 426.9L402.4 426.4L406.7 425.1L411.0 424.2L415.3 423.7L419.6 423.5L423.9 423.5L428.2 423.5L432.5 423.5L436.8 423.5L441.1 423.5L445.4 423.5L449.6 423.5L453.9 423.5L458.2 423.5L462.5 423.5L466.8 423.5L471.1 423.5L475.4 423.5L479.7 423.7L484.0 424.2L488.3 425.1L492.6 426.4L493.9 426.9L495.4 427.5L496.8 428.2L496.9 428.3L498.2 429.0L499.7 430.0L501.1 431.1L501.2 431.1L502.6 432.5L504.1 434.3L505.5 439.0L505.5 439.0L504.1 443.7L502.6 445.5L501.2 446.9L501.1 446.9L499.7 448.0L498.2 449.0L496.9 449.7L496.8 449.8L495.4 450.5L493.9 451.1L492.6 451.6L488.3 452.9L484.0 453.8L479.7 454.3L475.4 454.5L471.1 454.5L466.8 454.5L462.5 454.5L458.2 454.5L453.9 454.5L449.6 454.5L445.4 454.5L441.1 454.5L436.8 454.5L432.5 454.5L428.2 454.5L423.9 454.5L419.6 454.5L415.3 454.3L411.0 453.8L406.7 452.9L402.4 451.6L401.1 451.1L399.6 450.5L398.2 449.8L398.1 449.7L396.8 449.0L395.3 448.0L393.9 446.9L393.8 446.9L392.4 445.5L390.9 443.7L389.5 439.0Z" fill="#000" opacity="1"/><path d="M531.5 392.0L533.0 388.7L534.5 387.5L536.0 386.7L536.1 386.6L537.6 386.0L539.1 385.5L540.5 385.2L540.6 385.2L542.2 384.9L543.7 384.7L545.1 384.6L549.6 384.6L554.1 384.7L558.6 384.7L563.1 384.8L567.6 384.8L572.2 384.8L576.7 384.9L581.2 384.9L585.7 384.9L590.2 385.0L594.8 385.0L599.3 385.1L603.8 385.1L608.3 385.1L612.8 385.2L617.4 385.2L621.9 385.2L626.4 385.3L630.9 385.3L635.4 385.4L639.9 385.4L641.3 385.5L642.8 385.6L644.4 385.9L644.5 385.9L645.9 386.2L647.4 386.7L648.9 387.3L649.0 387.3L650.5 388.1L652.0 389.3L653.5 392.5L653.5 392.5L652.0 395.7L650.5 396.9L649.0 397.6L648.9 397.7L647.4 398.3L645.9 398.7L644.5 399.0L644.4 399.1L642.8 399.3L641.3 399.4L639.9 399.5L635.4 399.5L630.9 399.5L626.4 399.5L621.9 399.5L617.4 399.5L612.8 399.5L608.3 399.5L603.8 399.5L599.3 399.5L594.8 399.5L590.2 399.5L585.7 399.5L581.2 399.5L576.7 399.5L572.2 399.5L567.6 399.5L563.1 399.5L558.6 399.5L554.1 399.5L549.6 399.5L545.1 399.5L543.7 399.4L542.2 399.2L540.6 398.9L540.5 398.9L539.1 398.5L537.6 398.0L536.1 397.4L536.0 397.4L534.5 396.5L533.0 395.3L531.5 392.0Z" fill="#000" opacity="0.95"/><path d="M523.5 436.0L525.2 431.0L526.8 429.0L528.4 427.6L528.5 427.6L530.1 426.4L531.8 425.4L533.4 424.7L533.5 424.6L535.1 423.9L536.8 423.3L538.3 422.8L543.2 421.6L548.1 420.8L553.1 420.5L558.0 420.5L562.9 420.5L567.8 420.5L572.8 420.5L577.7 420.5L582.6 420.5L587.5 420.5L592.5 420.5L597.4 420.5L602.3 420.5L607.2 420.5L612.2 420.5L617.1 420.5L622.0 420.5L626.9 420.5L631.9 420.8L636.8 421.6L641.7 422.8L643.2 423.3L644.9 423.9L646.5 424.6L646.6 424.7L648.2 425.4L649.9 426.4L651.5 427.6L651.6 427.6L653.2 429.0L654.8 431.0L656.5 436.0L656.5 436.0L654.8 441.0L653.2 443.0L651.6 444.4L651.5 444.4L649.9 445.6L648.2 446.6L646.6 447.3L646.5 447.4L644.9 448.1L643.2 448.7L641.7 449.2L636.8 450.4L631.9 451.2L626.9 451.5L622.0 451.5L617.1 451.5L612.2 451.5L607.2 451.5L602.3 451.5L597.4 451.5L592.5 451.5L587.5 451.5L582.6 451.5L577.7 451.5L572.8 451.5L567.8 451.5L562.9 451.5L558.0 451.5L553.1 451.5L548.1 451.2L543.2 450.4L538.3 449.2L536.8 448.7L535.1 448.1L533.5 447.4L533.4 447.3L531.8 446.6L530.1 445.6L528.5 444.4L528.4 444.4L526.8 443.0L525.2 441.0L523.5 436.0Z" fill="#000" opacity="1"/><path d="M652 393C657.33 390.92 674.83 390.25 684 387.5C693.17 384.75 700 378.92 707 376.5C714 374.08 719.67 372.58 726 373C732.33 373.42 739.78 376.25 745 379C750.22 381.75 751.77 384.97 757.3 389.5C762.83 394.03 771.22 401.85 778.2 406.2C785.18 410.55 792.23 412.63 799.2 415.6C806.17 418.57 815.82 421.38 820 424C824.18 426.62 824.63 428.68 824.3 431.3C823.97 433.92 822.18 437.68 818 439.7C813.82 441.72 805.83 443.23 799.2 443.4C792.57 443.57 788.67 442.02 778.2 440.7C767.73 439.38 748.6 435.32 736.4 435.5C724.2 435.68 713.72 439.88 705 441.8C696.28 443.72 691.6 445.8 684.1 447C676.6 448.2 666.02 450.5 660 449C653.98 447.5 649.33 442.17 648 438C646.67 433.83 645.98 427.55 652 424C658.02 420.45 677 419.32 684.1 416.7C691.2 414.08 693.55 410.75 694.6 408.3C695.65 405.85 693.88 403.22 690.4 402C686.92 400.78 680.1 401.33 673.7 401C667.3 400.67 655.62 401.33 652 400C648.38 398.67 646.67 395.08 652 393Z" fill="#000" opacity="1"/><path d="M801.5 387.5L801.8 386.2L802.0 385.6L802.2 385.3L802.2 385.2L802.5 384.9L802.8 384.6L803.0 384.4L803.0 384.3L803.2 384.1L803.5 383.9L803.7 383.7L804.5 383.2L805.2 382.8L805.9 382.4L806.7 382.1L807.4 381.8L808.2 381.5L808.9 381.3L809.6 381.1L810.4 381.0L811.1 380.8L811.9 380.8L812.6 381.0L813.4 381.1L814.1 381.3L814.8 381.5L815.6 381.8L816.3 382.1L817.1 382.4L817.8 382.8L818.5 383.2L819.3 383.7L819.5 383.9L819.8 384.1L820.0 384.3L820.0 384.4L820.2 384.6L820.5 384.9L820.8 385.2L820.8 385.3L821.0 385.6L821.2 386.2L821.5 387.5L821.5 387.5L821.2 388.8L821.0 389.4L820.8 389.7L820.8 389.8L820.5 390.1L820.2 390.4L820.0 390.6L820.0 390.7L819.8 390.9L819.5 391.1L819.3 391.3L818.5 391.8L817.8 392.2L817.1 392.6L816.3 392.9L815.6 393.2L814.8 393.5L814.1 393.7L813.4 393.9L812.6 394.0L811.9 394.2L811.1 394.2L810.4 394.0L809.6 393.9L808.9 393.7L808.2 393.5L807.4 393.2L806.7 392.9L805.9 392.6L805.2 392.2L804.5 391.8L803.7 391.3L803.5 391.1L803.2 390.9L803.0 390.7L803.0 390.6L802.8 390.4L802.5 390.1L802.2 389.8L802.2 389.7L802.0 389.4L801.8 388.8L801.5 387.5Z" fill="#000" opacity="1"/><path d="M867.5 426.0L867.8 424.5L868.1 423.9L868.4 423.5L868.4 423.5L868.8 423.1L869.1 422.8L869.4 422.5L869.4 422.5L869.7 422.2L870.0 422.0L870.3 421.8L871.2 421.3L872.1 420.8L873.1 420.4L874.0 420.1L874.9 419.8L875.8 419.6L876.8 419.4L877.7 419.3L878.6 419.2L879.5 419.1L880.5 419.1L881.4 419.2L882.3 419.3L883.2 419.4L884.2 419.6L885.1 419.8L886.0 420.1L886.9 420.4L887.9 420.8L888.8 421.3L889.7 421.8L890.0 422.0L890.3 422.2L890.6 422.5L890.6 422.5L890.9 422.8L891.2 423.1L891.6 423.5L891.6 423.5L891.9 423.9L892.2 424.5L892.5 426.0L892.5 426.0L892.2 427.5L891.9 428.1L891.6 428.5L891.6 428.5L891.2 428.9L890.9 429.2L890.6 429.5L890.6 429.5L890.3 429.8L890.0 430.0L889.7 430.2L888.8 430.7L887.9 431.2L886.9 431.6L886.0 431.9L885.1 432.2L884.2 432.4L883.2 432.6L882.3 432.7L881.4 432.8L880.5 432.9L879.5 432.9L878.6 432.8L877.7 432.7L876.8 432.6L875.8 432.4L874.9 432.2L874.0 431.9L873.1 431.6L872.1 431.2L871.2 430.7L870.3 430.2L870.0 430.0L869.7 429.8L869.4 429.5L869.4 429.5L869.1 429.2L868.8 428.9L868.4 428.5L868.4 428.5L868.1 428.1L867.8 427.5L867.5 426.0Z" fill="#000" opacity="0.85"/><path d="M897.5 425.5L898.1 423.6L898.8 422.8L899.4 422.3L899.4 422.3L900.0 421.8L900.7 421.4L901.3 421.1L901.3 421.1L902.0 420.8L902.6 420.6L903.2 420.4L905.1 419.9L906.9 419.6L908.8 419.5L910.7 419.5L912.6 419.5L914.5 419.5L916.4 419.5L918.3 419.5L920.2 419.5L922.1 419.5L923.9 419.5L925.8 419.5L927.7 419.5L929.6 419.5L931.5 419.5L933.4 419.5L935.3 419.5L937.2 419.5L939.1 419.6L940.9 419.9L942.8 420.4L943.4 420.6L944.0 420.8L944.7 421.1L944.7 421.1L945.3 421.4L946.0 421.8L946.6 422.3L946.6 422.3L947.2 422.8L947.9 423.6L948.5 425.5L948.5 425.5L947.9 427.4L947.2 428.2L946.6 428.7L946.6 428.7L946.0 429.2L945.3 429.6L944.7 429.9L944.7 429.9L944.0 430.2L943.4 430.4L942.8 430.6L940.9 431.1L939.1 431.4L937.2 431.5L935.3 431.5L933.4 431.5L931.5 431.5L929.6 431.5L927.7 431.5L925.8 431.5L923.9 431.5L922.1 431.5L920.2 431.5L918.3 431.5L916.4 431.5L914.5 431.5L912.6 431.5L910.7 431.5L908.8 431.5L906.9 431.4L905.1 431.1L903.2 430.6L902.6 430.4L902.0 430.2L901.3 429.9L901.3 429.9L900.7 429.6L900.0 429.2L899.4 428.7L899.4 428.7L898.8 428.2L898.1 427.4L897.5 425.5Z" fill="#000" opacity="0.8"/></g><g filter="url(#b3)"><path d="M260.5 393.2L261.8 390.6L263.0 389.7L264.2 389.0L264.3 389.0L265.6 388.5L266.8 388.1L268.0 387.9L268.1 387.8L269.3 387.7L270.6 387.5L271.7 387.5L275.5 387.5L279.2 387.5L282.9 387.5L286.7 387.5L290.4 387.5L294.2 387.5L297.9 387.5L301.6 387.5L305.4 387.5L309.1 387.5L312.9 387.5L316.6 387.5L320.4 387.5L324.1 387.5L327.8 387.5L331.6 387.5L335.3 387.5L339.1 387.5L342.8 387.5L346.5 387.5L350.3 387.5L351.4 387.5L352.7 387.7L353.9 387.8L354.0 387.9L355.2 388.1L356.4 388.5L357.7 389.0L357.8 389.0L359.0 389.7L360.2 390.6L361.5 393.2L361.5 393.2L360.2 395.9L359.0 396.8L357.8 397.5L357.7 397.5L356.4 398.0L355.2 398.4L354.0 398.6L353.9 398.7L352.7 398.8L351.4 399.0L350.3 399.0L346.5 399.0L342.8 399.0L339.1 399.0L335.3 399.0L331.6 399.0L327.8 399.0L324.1 399.0L320.4 399.0L316.6 399.0L312.9 399.0L309.1 399.0L305.4 399.0L301.6 399.0L297.9 399.0L294.2 399.0L290.4 399.0L286.7 399.0L282.9 399.0L279.2 399.0L275.5 399.0L271.7 399.0L270.6 399.0L269.3 398.8L268.1 398.7L268.0 398.6L266.8 398.4L265.6 398.0L264.3 397.5L264.2 397.5L263.0 396.8L261.8 395.9L260.5 393.2Z" fill="#000" opacity="0.55"/><path d="M261.5 438.0L262.8 435.0L264.0 433.9L265.2 433.1L265.3 433.1L266.6 432.5L267.8 432.0L269.0 431.7L269.1 431.7L270.3 431.4L271.6 431.2L272.7 431.1L276.5 431.1L280.2 431.2L283.9 431.4L287.7 431.5L291.4 431.7L295.2 431.8L298.9 432.0L302.6 432.1L306.4 432.3L310.1 432.4L313.9 432.4L317.6 432.3L321.4 432.1L325.1 432.0L328.8 431.8L332.6 431.7L336.3 431.5L340.1 431.4L343.8 431.2L347.5 431.1L351.3 431.1L352.4 431.2L353.7 431.4L354.9 431.7L355.0 431.7L356.2 432.0L357.4 432.5L358.7 433.1L358.8 433.1L360.0 433.9L361.2 435.0L362.5 438.0L362.5 438.0L361.2 441.0L360.0 442.1L358.8 442.9L358.7 442.9L357.4 443.5L356.2 444.0L355.0 444.3L354.9 444.3L353.7 444.6L352.4 444.8L351.3 444.9L347.5 444.9L343.8 444.8L340.1 444.6L336.3 444.5L332.6 444.3L328.8 444.2L325.1 444.0L321.4 443.9L317.6 443.7L313.9 443.6L310.1 443.6L306.4 443.7L302.6 443.9L298.9 444.0L295.2 444.2L291.4 444.3L287.7 444.5L283.9 444.6L280.2 444.8L276.5 444.9L272.7 444.9L271.6 444.8L270.3 444.6L269.1 444.3L269.0 444.3L267.8 444.0L266.6 443.5L265.3 442.9L265.2 442.9L264.0 442.1L262.8 441.0L261.5 438.0Z" fill="#000" opacity="1"/><path d="M395.5 393.2L396.8 390.0L398.1 388.8L399.4 387.9L399.5 387.9L400.8 387.2L402.1 386.6L403.4 386.2L403.4 386.2L404.8 385.8L406.1 385.5L407.3 385.3L411.2 385.0L415.1 385.0L419.1 385.0L423.0 385.0L426.9 385.0L430.8 385.0L434.8 385.0L438.7 385.0L442.6 385.0L446.5 385.0L450.5 385.0L454.4 385.0L458.3 385.0L462.2 385.0L466.2 385.0L470.1 385.0L474.0 385.0L477.9 385.0L481.9 385.0L485.8 385.0L489.7 385.3L490.9 385.5L492.2 385.8L493.6 386.2L493.6 386.2L494.9 386.6L496.2 387.2L497.5 387.9L497.6 387.9L498.9 388.8L500.2 390.0L501.5 393.2L501.5 393.2L500.2 396.5L498.9 397.7L497.6 398.6L497.5 398.6L496.2 399.3L494.9 399.9L493.6 400.3L493.6 400.3L492.2 400.7L490.9 401.0L489.7 401.2L485.8 401.5L481.9 401.5L477.9 401.5L474.0 401.5L470.1 401.5L466.2 401.5L462.2 401.5L458.3 401.5L454.4 401.5L450.5 401.5L446.5 401.5L442.6 401.5L438.7 401.5L434.8 401.5L430.8 401.5L426.9 401.5L423.0 401.5L419.1 401.5L415.1 401.5L411.2 401.5L407.3 401.2L406.1 401.0L404.8 400.7L403.4 400.3L403.4 400.3L402.1 399.9L400.8 399.3L399.5 398.6L399.4 398.6L398.1 397.7L396.8 396.5L395.5 393.2Z" fill="#000" opacity="0.95"/><path d="M389.5 439.0L390.9 434.3L392.4 432.5L393.8 431.1L393.9 431.1L395.3 430.0L396.8 429.0L398.1 428.3L398.2 428.2L399.6 427.5L401.1 426.9L402.4 426.4L406.7 425.1L411.0 424.2L415.3 423.7L419.6 423.5L423.9 423.5L428.2 423.5L432.5 423.5L436.8 423.5L441.1 423.5L445.4 423.5L449.6 423.5L453.9 423.5L458.2 423.5L462.5 423.5L466.8 423.5L471.1 423.5L475.4 423.5L479.7 423.7L484.0 424.2L488.3 425.1L492.6 426.4L493.9 426.9L495.4 427.5L496.8 428.2L496.9 428.3L498.2 429.0L499.7 430.0L501.1 431.1L501.2 431.1L502.6 432.5L504.1 434.3L505.5 439.0L505.5 439.0L504.1 443.7L502.6 445.5L501.2 446.9L501.1 446.9L499.7 448.0L498.2 449.0L496.9 449.7L496.8 449.8L495.4 450.5L493.9 451.1L492.6 451.6L488.3 452.9L484.0 453.8L479.7 454.3L475.4 454.5L471.1 454.5L466.8 454.5L462.5 454.5L458.2 454.5L453.9 454.5L449.6 454.5L445.4 454.5L441.1 454.5L436.8 454.5L432.5 454.5L428.2 454.5L423.9 454.5L419.6 454.5L415.3 454.3L411.0 453.8L406.7 452.9L402.4 451.6L401.1 451.1L399.6 450.5L398.2 449.8L398.1 449.7L396.8 449.0L395.3 448.0L393.9 446.9L393.8 446.9L392.4 445.5L390.9 443.7L389.5 439.0Z" fill="#000" opacity="1"/><path d="M531.5 392.0L533.0 388.7L534.5 387.5L536.0 386.7L536.1 386.6L537.6 386.0L539.1 385.5L540.5 385.2L540.6 385.2L542.2 384.9L543.7 384.7L545.1 384.6L549.6 384.6L554.1 384.7L558.6 384.7L563.1 384.8L567.6 384.8L572.2 384.8L576.7 384.9L581.2 384.9L585.7 384.9L590.2 385.0L594.8 385.0L599.3 385.1L603.8 385.1L608.3 385.1L612.8 385.2L617.4 385.2L621.9 385.2L626.4 385.3L630.9 385.3L635.4 385.4L639.9 385.4L641.3 385.5L642.8 385.6L644.4 385.9L644.5 385.9L645.9 386.2L647.4 386.7L648.9 387.3L649.0 387.3L650.5 388.1L652.0 389.3L653.5 392.5L653.5 392.5L652.0 395.7L650.5 396.9L649.0 397.6L648.9 397.7L647.4 398.3L645.9 398.7L644.5 399.0L644.4 399.1L642.8 399.3L641.3 399.4L639.9 399.5L635.4 399.5L630.9 399.5L626.4 399.5L621.9 399.5L617.4 399.5L612.8 399.5L608.3 399.5L603.8 399.5L599.3 399.5L594.8 399.5L590.2 399.5L585.7 399.5L581.2 399.5L576.7 399.5L572.2 399.5L567.6 399.5L563.1 399.5L558.6 399.5L554.1 399.5L549.6 399.5L545.1 399.5L543.7 399.4L542.2 399.2L540.6 398.9L540.5 398.9L539.1 398.5L537.6 398.0L536.1 397.4L536.0 397.4L534.5 396.5L533.0 395.3L531.5 392.0Z" fill="#000" opacity="0.95"/><path d="M523.5 436.0L525.2 431.0L526.8 429.0L528.4 427.6L528.5 427.6L530.1 426.4L531.8 425.4L533.4 424.7L533.5 424.6L535.1 423.9L536.8 423.3L538.3 422.8L543.2 421.6L548.1 420.8L553.1 420.5L558.0 420.5L562.9 420.5L567.8 420.5L572.8 420.5L577.7 420.5L582.6 420.5L587.5 420.5L592.5 420.5L597.4 420.5L602.3 420.5L607.2 420.5L612.2 420.5L617.1 420.5L622.0 420.5L626.9 420.5L631.9 420.8L636.8 421.6L641.7 422.8L643.2 423.3L644.9 423.9L646.5 424.6L646.6 424.7L648.2 425.4L649.9 426.4L651.5 427.6L651.6 427.6L653.2 429.0L654.8 431.0L656.5 436.0L656.5 436.0L654.8 441.0L653.2 443.0L651.6 444.4L651.5 444.4L649.9 445.6L648.2 446.6L646.6 447.3L646.5 447.4L644.9 448.1L643.2 448.7L641.7 449.2L636.8 450.4L631.9 451.2L626.9 451.5L622.0 451.5L617.1 451.5L612.2 451.5L607.2 451.5L602.3 451.5L597.4 451.5L592.5 451.5L587.5 451.5L582.6 451.5L577.7 451.5L572.8 451.5L567.8 451.5L562.9 451.5L558.0 451.5L553.1 451.5L548.1 451.2L543.2 450.4L538.3 449.2L536.8 448.7L535.1 448.1L533.5 447.4L533.4 447.3L531.8 446.6L530.1 445.6L528.5 444.4L528.4 444.4L526.8 443.0L525.2 441.0L523.5 436.0Z" fill="#000" opacity="1"/><path d="M652 393C657.33 390.92 674.83 390.25 684 387.5C693.17 384.75 700 378.92 707 376.5C714 374.08 719.67 372.58 726 373C732.33 373.42 739.78 376.25 745 379C750.22 381.75 751.77 384.97 757.3 389.5C762.83 394.03 771.22 401.85 778.2 406.2C785.18 410.55 792.23 412.63 799.2 415.6C806.17 418.57 815.82 421.38 820 424C824.18 426.62 824.63 428.68 824.3 431.3C823.97 433.92 822.18 437.68 818 439.7C813.82 441.72 805.83 443.23 799.2 443.4C792.57 443.57 788.67 442.02 778.2 440.7C767.73 439.38 748.6 435.32 736.4 435.5C724.2 435.68 713.72 439.88 705 441.8C696.28 443.72 691.6 445.8 684.1 447C676.6 448.2 666.02 450.5 660 449C653.98 447.5 649.33 442.17 648 438C646.67 433.83 645.98 427.55 652 424C658.02 420.45 677 419.32 684.1 416.7C691.2 414.08 693.55 410.75 694.6 408.3C695.65 405.85 693.88 403.22 690.4 402C686.92 400.78 680.1 401.33 673.7 401C667.3 400.67 655.62 401.33 652 400C648.38 398.67 646.67 395.08 652 393Z" fill="#000" opacity="1"/><path d="M801.5 387.5L801.8 386.2L802.0 385.6L802.2 385.3L802.2 385.2L802.5 384.9L802.8 384.6L803.0 384.4L803.0 384.3L803.2 384.1L803.5 383.9L803.7 383.7L804.5 383.2L805.2 382.8L805.9 382.4L806.7 382.1L807.4 381.8L808.2 381.5L808.9 381.3L809.6 381.1L810.4 381.0L811.1 380.8L811.9 380.8L812.6 381.0L813.4 381.1L814.1 381.3L814.8 381.5L815.6 381.8L816.3 382.1L817.1 382.4L817.8 382.8L818.5 383.2L819.3 383.7L819.5 383.9L819.8 384.1L820.0 384.3L820.0 384.4L820.2 384.6L820.5 384.9L820.8 385.2L820.8 385.3L821.0 385.6L821.2 386.2L821.5 387.5L821.5 387.5L821.2 388.8L821.0 389.4L820.8 389.7L820.8 389.8L820.5 390.1L820.2 390.4L820.0 390.6L820.0 390.7L819.8 390.9L819.5 391.1L819.3 391.3L818.5 391.8L817.8 392.2L817.1 392.6L816.3 392.9L815.6 393.2L814.8 393.5L814.1 393.7L813.4 393.9L812.6 394.0L811.9 394.2L811.1 394.2L810.4 394.0L809.6 393.9L808.9 393.7L808.2 393.5L807.4 393.2L806.7 392.9L805.9 392.6L805.2 392.2L804.5 391.8L803.7 391.3L803.5 391.1L803.2 390.9L803.0 390.7L803.0 390.6L802.8 390.4L802.5 390.1L802.2 389.8L802.2 389.7L802.0 389.4L801.8 388.8L801.5 387.5Z" fill="#000" opacity="1"/><path d="M867.5 426.0L867.8 424.5L868.1 423.9L868.4 423.5L868.4 423.5L868.8 423.1L869.1 422.8L869.4 422.5L869.4 422.5L869.7 422.2L870.0 422.0L870.3 421.8L871.2 421.3L872.1 420.8L873.1 420.4L874.0 420.1L874.9 419.8L875.8 419.6L876.8 419.4L877.7 419.3L878.6 419.2L879.5 419.1L880.5 419.1L881.4 419.2L882.3 419.3L883.2 419.4L884.2 419.6L885.1 419.8L886.0 420.1L886.9 420.4L887.9 420.8L888.8 421.3L889.7 421.8L890.0 422.0L890.3 422.2L890.6 422.5L890.6 422.5L890.9 422.8L891.2 423.1L891.6 423.5L891.6 423.5L891.9 423.9L892.2 424.5L892.5 426.0L892.5 426.0L892.2 427.5L891.9 428.1L891.6 428.5L891.6 428.5L891.2 428.9L890.9 429.2L890.6 429.5L890.6 429.5L890.3 429.8L890.0 430.0L889.7 430.2L888.8 430.7L887.9 431.2L886.9 431.6L886.0 431.9L885.1 432.2L884.2 432.4L883.2 432.6L882.3 432.7L881.4 432.8L880.5 432.9L879.5 432.9L878.6 432.8L877.7 432.7L876.8 432.6L875.8 432.4L874.9 432.2L874.0 431.9L873.1 431.6L872.1 431.2L871.2 430.7L870.3 430.2L870.0 430.0L869.7 429.8L869.4 429.5L869.4 429.5L869.1 429.2L868.8 428.9L868.4 428.5L868.4 428.5L868.1 428.1L867.8 427.5L867.5 426.0Z" fill="#000" opacity="0.85"/><path d="M897.5 425.5L898.1 423.6L898.8 422.8L899.4 422.3L899.4 422.3L900.0 421.8L900.7 421.4L901.3 421.1L901.3 421.1L902.0 420.8L902.6 420.6L903.2 420.4L905.1 419.9L906.9 419.6L908.8 419.5L910.7 419.5L912.6 419.5L914.5 419.5L916.4 419.5L918.3 419.5L920.2 419.5L922.1 419.5L923.9 419.5L925.8 419.5L927.7 419.5L929.6 419.5L931.5 419.5L933.4 419.5L935.3 419.5L937.2 419.5L939.1 419.6L940.9 419.9L942.8 420.4L943.4 420.6L944.0 420.8L944.7 421.1L944.7 421.1L945.3 421.4L946.0 421.8L946.6 422.3L946.6 422.3L947.2 422.8L947.9 423.6L948.5 425.5L948.5 425.5L947.9 427.4L947.2 428.2L946.6 428.7L946.6 428.7L946.0 429.2L945.3 429.6L944.7 429.9L944.7 429.9L944.0 430.2L943.4 430.4L942.8 430.6L940.9 431.1L939.1 431.4L937.2 431.5L935.3 431.5L933.4 431.5L931.5 431.5L929.6 431.5L927.7 431.5L925.8 431.5L923.9 431.5L922.1 431.5L920.2 431.5L918.3 431.5L916.4 431.5L914.5 431.5L912.6 431.5L910.7 431.5L908.8 431.5L906.9 431.4L905.1 431.1L903.2 430.6L902.6 430.4L902.0 430.2L901.3 429.9L901.3 429.9L900.7 429.6L900.0 429.2L899.4 428.7L899.4 428.7L898.8 428.2L898.1 427.4L897.5 425.5Z" fill="#000" opacity="0.8"/></g><g filter="url(#b9)"><path d="M263.5 416.0L264.7 410.8L265.9 408.7L267.1 407.2L267.1 407.1L268.4 405.8L269.6 404.7L270.7 403.8L270.8 403.7L272.0 402.8L273.2 402.0L274.3 401.4L277.9 399.5L281.5 398.0L285.1 396.8L288.6 395.8L292.2 395.0L295.8 394.4L299.4 394.0L303.0 393.7L306.6 393.5L310.2 393.5L313.8 393.5L317.4 393.5L321.0 393.7L324.6 394.0L328.2 394.4L331.8 395.0L335.4 395.8L338.9 396.8L342.5 398.0L346.1 399.5L349.7 401.4L350.8 402.0L352.0 402.8L353.2 403.7L353.3 403.8L354.4 404.7L355.6 405.8L356.9 407.1L356.9 407.2L358.1 408.7L359.3 410.8L360.5 416.0L360.5 416.0L359.3 421.2L358.1 423.3L356.9 424.8L356.9 424.9L355.6 426.2L354.4 427.3L353.3 428.2L353.2 428.3L352.0 429.2L350.8 430.0L349.7 430.6L346.1 432.5L342.5 434.0L338.9 435.2L335.4 436.2L331.8 437.0L328.2 437.6L324.6 438.0L321.0 438.3L317.4 438.5L313.8 438.5L310.2 438.5L306.6 438.5L303.0 438.3L299.4 438.0L295.8 437.6L292.2 437.0L288.6 436.2L285.1 435.2L281.5 434.0L277.9 432.5L274.3 430.6L273.2 430.0L272.0 429.2L270.8 428.3L270.7 428.2L269.6 427.3L268.4 426.2L267.1 424.9L267.1 424.8L265.9 423.3L264.7 421.2L263.5 416.0Z" fill="#000" opacity="0.06"/><path d="M393.5 415.0L394.9 409.4L396.2 407.1L397.6 405.4L397.6 405.4L399.0 404.0L400.4 402.8L401.6 401.8L401.8 401.7L403.1 400.8L404.5 399.9L405.7 399.2L409.8 397.2L413.9 395.6L417.9 394.4L422.0 393.4L426.1 392.6L430.2 392.1L434.2 391.7L438.3 391.5L442.4 391.5L446.5 391.5L450.5 391.5L454.6 391.5L458.7 391.5L462.8 391.7L466.8 392.1L470.9 392.6L475.0 393.4L479.1 394.4L483.1 395.6L487.2 397.2L491.3 399.2L492.5 399.9L493.9 400.8L495.2 401.7L495.4 401.8L496.6 402.8L498.0 404.0L499.4 405.4L499.4 405.4L500.8 407.1L502.1 409.4L503.5 415.0L503.5 415.0L502.1 420.6L500.8 422.9L499.4 424.6L499.4 424.6L498.0 426.0L496.6 427.2L495.4 428.2L495.2 428.3L493.9 429.2L492.5 430.1L491.3 430.8L487.2 432.8L483.1 434.4L479.1 435.6L475.0 436.6L470.9 437.4L466.8 437.9L462.8 438.3L458.7 438.5L454.6 438.5L450.5 438.5L446.5 438.5L442.4 438.5L438.3 438.5L434.2 438.3L430.2 437.9L426.1 437.4L422.0 436.6L417.9 435.6L413.9 434.4L409.8 432.8L405.7 430.8L404.5 430.1L403.1 429.2L401.8 428.3L401.6 428.2L400.4 427.2L399.0 426.0L397.6 424.6L397.6 424.6L396.2 422.9L394.9 420.6L393.5 415.0Z" fill="#000" opacity="0.16"/><path d="M527.5 414.0L529.1 408.1L530.7 405.7L532.2 404.0L532.3 403.9L533.9 402.5L535.4 401.2L536.9 400.2L537.0 400.2L538.6 399.2L540.2 398.3L541.6 397.6L546.3 395.7L551.0 394.2L555.7 393.1L560.4 392.3L565.1 391.8L569.8 391.5L574.5 391.5L579.2 391.5L583.9 391.5L588.6 391.5L593.4 391.5L598.1 391.5L602.8 391.5L607.5 391.5L612.2 391.5L616.9 391.8L621.6 392.3L626.3 393.1L631.0 394.2L635.7 395.7L640.4 397.6L641.8 398.3L643.4 399.2L645.0 400.2L645.1 400.2L646.6 401.2L648.1 402.5L649.7 403.9L649.8 404.0L651.3 405.7L652.9 408.1L654.5 414.0L654.5 414.0L652.9 419.9L651.3 422.3L649.8 424.0L649.7 424.1L648.1 425.5L646.6 426.8L645.1 427.8L645.0 427.8L643.4 428.8L641.8 429.7L640.4 430.4L635.7 432.3L631.0 433.8L626.3 434.9L621.6 435.7L616.9 436.2L612.2 436.5L607.5 436.5L602.8 436.5L598.1 436.5L593.4 436.5L588.6 436.5L583.9 436.5L579.2 436.5L574.5 436.5L569.8 436.5L565.1 436.2L560.4 435.7L555.7 434.9L551.0 433.8L546.3 432.3L541.6 430.4L540.2 429.7L538.6 428.8L537.0 427.8L536.9 427.8L535.4 426.8L533.9 425.5L532.3 424.1L532.2 424.0L530.7 422.3L529.1 419.9L527.5 414.0Z" fill="#000" opacity="0.16"/><path d="M735 352C735.33 345 751.67 340 760 338C768.33 336 778.33 337 785 340C791.67 343 796.5 349.33 800 356C803.5 362.67 806 373 806 380C806 387 805.17 394.33 800 398C794.83 401.67 782 405 775 402C768 399 764.67 388.33 758 380C751.33 371.67 734.67 359 735 352Z" fill="#000" opacity="0.3"/><path d="M720 345C720.83 340.67 740.33 329.5 750 326C759.67 322.5 771.33 322.67 778 324C784.67 325.33 791.33 330.67 790 334C788.67 337.33 777.5 341 770 344C762.5 347 753.33 351.83 745 352C736.67 352.17 719.17 349.33 720 345Z" fill="#000" opacity="0.25"/></g><g filter="url(#b5)"><path d="M688 388C680.5 385.33 697.33 372 703 366C708.67 360 715 355.83 722 352C729 348.17 738.67 344.67 745 343C751.33 341.33 756.17 340.83 760 342C763.83 343.17 768 346 768 350C768 354 763.33 360.67 760 366C756.67 371.33 760 378.33 748 382C736 385.67 695.5 390.67 688 388Z" fill="#000" opacity="0.7"/><path d="M835.5 382.8L837.1 379.6L838.7 378.4L840.2 377.6L840.3 377.6L841.9 377.0L843.4 376.6L844.9 376.3L845.0 376.3L846.6 376.1L848.2 376.0L849.6 376.0L854.3 376.0L859.0 376.0L863.7 376.0L868.4 376.0L873.1 376.0L877.8 376.0L882.5 376.0L887.2 376.0L891.9 376.0L896.6 376.0L901.4 376.0L906.1 376.0L910.8 376.0L915.5 376.0L920.2 376.0L924.9 376.0L929.6 376.0L934.3 376.0L939.0 376.0L943.7 376.0L948.4 376.0L949.8 376.0L951.4 376.1L953.0 376.3L953.1 376.3L954.6 376.6L956.1 377.0L957.7 377.6L957.8 377.6L959.3 378.4L960.9 379.6L962.5 382.8L962.5 382.8L960.9 385.9L959.3 387.1L957.8 387.9L957.7 387.9L956.1 388.5L954.6 388.9L953.1 389.2L953.0 389.2L951.4 389.4L949.8 389.5L948.4 389.5L943.7 389.5L939.0 389.5L934.3 389.5L929.6 389.5L924.9 389.5L920.2 389.5L915.5 389.5L910.8 389.5L906.1 389.5L901.4 389.5L896.6 389.5L891.9 389.5L887.2 389.5L882.5 389.5L877.8 389.5L873.1 389.5L868.4 389.5L863.7 389.5L859.0 389.5L854.3 389.5L849.6 389.5L848.2 389.5L846.6 389.4L845.0 389.2L844.9 389.2L843.4 388.9L841.9 388.5L840.3 387.9L840.2 387.9L838.7 387.1L837.1 385.9L835.5 382.8Z" fill="#000" opacity="0.36"/><path d="M859.5 426.0L860.8 422.6L862.1 421.2L863.3 420.3L863.4 420.2L864.6 419.5L865.9 418.9L867.1 418.4L867.2 418.3L868.5 417.9L869.8 417.5L870.9 417.3L874.8 416.7L878.6 416.5L882.4 416.5L886.2 416.5L890.0 416.5L893.8 416.5L897.6 416.5L901.5 416.5L905.3 416.5L909.1 416.5L912.9 416.5L916.7 416.5L920.5 416.5L924.4 416.5L928.2 416.5L932.0 416.5L935.8 416.5L939.6 416.5L943.4 416.5L947.2 416.6L951.1 417.1L952.2 417.4L953.5 417.7L954.8 418.1L954.9 418.2L956.1 418.6L957.4 419.2L958.6 419.9L958.7 420.0L959.9 420.9L961.2 422.2L962.5 425.5L962.5 425.5L961.2 428.9L959.9 430.2L958.7 431.1L958.6 431.1L957.4 431.8L956.1 432.4L954.9 432.9L954.8 432.9L953.5 433.4L952.2 433.7L951.1 434.0L947.2 434.5L943.4 434.7L939.6 434.7L935.8 434.8L932.0 434.8L928.2 434.8L924.4 434.9L920.5 434.9L916.7 434.9L912.9 435.0L909.1 435.0L905.3 435.1L901.5 435.1L897.6 435.1L893.8 435.2L890.0 435.2L886.2 435.2L882.4 435.3L878.6 435.3L874.8 435.2L870.9 434.6L869.8 434.4L868.5 434.0L867.2 433.6L867.1 433.6L865.9 433.1L864.6 432.5L863.4 431.7L863.3 431.7L862.1 430.8L860.8 429.4L859.5 426.0Z" fill="#000" opacity="0.55"/></g></g><clipPath id="ks3"><rect x="204.5" y="511.5" width="788" height="127.5"/></clipPath><rect x="204.5" y="511.5" width="788" height="127.5" fill="#f1f1f1" filter="url(#be)"/><g clip-path="url(#ks3)"><g filter="url(#b16)" opacity="0.3"><path d="M257.5 601.5L258.9 598.2L260.4 596.9L261.8 596.1L261.9 596.1L263.3 595.4L264.8 594.9L266.1 594.6L266.2 594.6L267.6 594.3L269.1 594.1L270.4 594.0L274.7 594.1L279.0 594.2L283.3 594.4L287.6 594.5L291.9 594.7L296.2 594.8L300.5 595.0L304.8 595.1L309.1 595.3L313.4 595.4L317.6 595.4L321.9 595.3L326.2 595.1L330.5 595.0L334.8 594.8L339.1 594.7L343.4 594.5L347.7 594.4L352.0 594.2L356.3 594.1L360.6 594.0L361.9 594.1L363.4 594.3L364.8 594.6L364.9 594.6L366.2 594.9L367.7 595.4L369.1 596.1L369.2 596.1L370.6 596.9L372.1 598.2L373.5 601.5L373.5 601.5L372.1 604.8L370.6 606.0L369.2 606.9L369.1 606.9L367.7 607.5L366.2 608.0L364.9 608.3L364.8 608.4L363.4 608.6L361.9 608.8L360.6 608.9L356.3 608.8L352.0 608.6L347.7 608.4L343.4 608.2L339.1 608.0L334.8 607.8L330.5 607.6L326.2 607.5L321.9 607.3L317.6 607.1L313.4 607.1L309.1 607.3L304.8 607.5L300.5 607.6L296.2 607.8L291.9 608.0L287.6 608.2L283.3 608.4L279.0 608.6L274.7 608.8L270.4 608.9L269.1 608.8L267.6 608.6L266.2 608.4L266.1 608.3L264.8 608.0L263.3 607.5L261.9 606.9L261.8 606.9L260.4 606.0L258.9 604.8L257.5 601.5Z" fill="#000" opacity="1"/><path d="M397.5 603.0L399.1 598.6L400.7 596.9L402.2 595.7L402.3 595.7L403.9 594.7L405.4 593.9L406.9 593.2L407.0 593.2L408.6 592.6L410.2 592.1L411.6 591.7L416.3 590.9L421.0 590.5L425.7 590.5L430.4 590.5L435.1 590.5L439.8 590.5L444.5 590.5L449.2 590.5L453.9 590.5L458.6 590.5L463.4 590.5L468.1 590.5L472.8 590.5L477.5 590.5L482.2 590.5L486.9 590.5L491.6 590.5L496.3 590.5L501.0 590.5L505.7 590.9L510.4 591.7L511.8 592.1L513.4 592.6L515.0 593.2L515.1 593.2L516.6 593.9L518.1 594.7L519.7 595.7L519.8 595.7L521.3 596.9L522.9 598.6L524.5 603.0L524.5 603.0L522.9 607.4L521.3 609.1L519.8 610.3L519.7 610.3L518.1 611.3L516.6 612.1L515.1 612.8L515.0 612.8L513.4 613.4L511.8 613.9L510.4 614.3L505.7 615.1L501.0 615.5L496.3 615.5L491.6 615.5L486.9 615.5L482.2 615.5L477.5 615.5L472.8 615.5L468.1 615.5L463.4 615.5L458.6 615.5L453.9 615.5L449.2 615.5L444.5 615.5L439.8 615.5L435.1 615.5L430.4 615.5L425.7 615.5L421.0 615.5L416.3 615.1L411.6 614.3L410.2 613.9L408.6 613.4L407.0 612.8L406.9 612.8L405.4 612.1L403.9 611.3L402.3 610.3L402.2 610.3L400.7 609.1L399.1 607.4L397.5 603.0Z" fill="#000" opacity="1"/><path d="M547.5 562.0L548.9 559.3L550.3 558.3L551.6 557.7L551.7 557.7L553.0 557.2L554.4 556.9L555.7 556.7L555.8 556.7L557.2 556.5L558.6 556.5L559.8 556.5L563.9 556.5L568.1 556.5L572.2 556.5L576.3 556.5L580.4 556.5L584.5 556.5L588.6 556.5L592.7 556.5L596.8 556.5L600.9 556.5L605.1 556.5L609.2 556.5L613.3 556.5L617.4 556.5L621.5 556.5L625.6 556.5L629.7 556.5L633.8 556.5L637.9 556.5L642.1 556.5L646.2 556.5L647.4 556.5L648.8 556.5L650.2 556.7L650.3 556.7L651.6 556.9L653.0 557.2L654.3 557.7L654.4 557.7L655.7 558.3L657.1 559.3L658.5 562.0L658.5 562.0L657.1 564.7L655.7 565.7L654.4 566.3L654.3 566.3L653.0 566.8L651.6 567.1L650.3 567.3L650.2 567.3L648.8 567.5L647.4 567.5L646.2 567.5L642.1 567.5L637.9 567.5L633.8 567.5L629.7 567.5L625.6 567.5L621.5 567.5L617.4 567.5L613.3 567.5L609.2 567.5L605.1 567.5L600.9 567.5L596.8 567.5L592.7 567.5L588.6 567.5L584.5 567.5L580.4 567.5L576.3 567.5L572.2 567.5L568.1 567.5L563.9 567.5L559.8 567.5L558.6 567.5L557.2 567.5L555.8 567.3L555.7 567.3L554.4 567.1L553.0 566.8L551.7 566.3L551.6 566.3L550.3 565.7L548.9 564.7L547.5 562.0Z" fill="#000" opacity="0.9"/><path d="M545.5 598.0L546.9 594.1L548.3 592.5L549.6 591.4L549.7 591.4L551.0 590.5L552.4 589.8L553.7 589.2L553.8 589.1L555.2 588.6L556.6 588.2L557.8 587.8L561.9 587.0L566.1 586.6L570.2 586.5L574.3 586.5L578.4 586.5L582.5 586.5L586.6 586.5L590.7 586.5L594.8 586.5L598.9 586.5L603.1 586.5L607.2 586.5L611.3 586.5L615.4 586.5L619.5 586.5L623.6 586.5L627.7 586.5L631.8 586.5L635.9 586.6L640.1 587.0L644.2 587.8L645.4 588.2L646.8 588.6L648.2 589.1L648.3 589.2L649.6 589.8L651.0 590.5L652.3 591.4L652.4 591.4L653.7 592.5L655.1 594.1L656.5 598.0L656.5 598.0L655.1 601.9L653.7 603.5L652.4 604.6L652.3 604.6L651.0 605.5L649.6 606.2L648.3 606.8L648.2 606.9L646.8 607.4L645.4 607.8L644.2 608.2L640.1 609.0L635.9 609.4L631.8 609.5L627.7 609.5L623.6 609.5L619.5 609.5L615.4 609.5L611.3 609.5L607.2 609.5L603.1 609.5L598.9 609.5L594.8 609.5L590.7 609.5L586.6 609.5L582.5 609.5L578.4 609.5L574.3 609.5L570.2 609.5L566.1 609.4L561.9 609.0L557.8 608.2L556.6 607.8L555.2 607.4L553.8 606.9L553.7 606.8L552.4 606.2L551.0 605.5L549.7 604.6L549.6 604.6L548.3 603.5L546.9 601.9L545.5 598.0Z" fill="#000" opacity="1"/><path d="M673 563C676.33 559.33 690.5 553 700 549C709.5 545 720 541.5 730 539C740 536.5 750.83 534.33 760 534C769.17 533.67 778.33 534.83 785 537C791.67 539.17 795.5 543.5 800 547C804.5 550.5 811 555 812 558C813 561 810.5 563.67 806 565C801.5 566.33 793.5 565.83 785 566C776.5 566.17 765 565.5 755 566C745 566.5 734.5 568 725 569C715.5 570 705.5 571.67 698 572C690.5 572.33 684.17 572.5 680 571C675.83 569.5 669.67 566.67 673 563Z" fill="#000" opacity="1"/><path d="M669 598C670.67 594.33 680.67 590.33 690 588C699.33 585.67 713.33 585.67 725 584C736.67 582.33 749.17 578.67 760 578C770.83 577.33 781.33 578 790 580C798.67 582 807.17 587 812 590C816.83 593 819.67 595 819 598C818.33 601 814.5 605.5 808 608C801.5 610.5 791.33 612 780 613C768.67 614 753.33 613.5 740 614C726.67 614.5 710 616.67 700 616C690 615.33 685.17 613 680 610C674.83 607 667.33 601.67 669 598Z" fill="#000" opacity="1"/><path d="M829.5 553.5L831.1 550.3L832.6 549.1L834.1 548.3L834.2 548.3L835.8 547.7L837.3 547.2L838.8 546.9L838.9 546.9L840.4 546.7L842.0 546.5L843.4 546.5L848.0 546.5L852.6 546.5L857.3 546.5L861.9 546.5L866.5 546.5L871.2 546.5L875.8 546.5L880.4 546.5L885.1 546.5L889.7 546.5L894.3 546.4L898.9 546.2L903.6 545.9L908.2 545.7L912.8 545.5L917.5 545.3L922.1 545.1L926.7 544.8L931.4 544.6L936.0 544.4L940.6 544.2L942.0 544.1L943.6 544.1L945.1 544.2L945.2 544.2L946.7 544.4L948.2 544.8L949.8 545.2L949.9 545.3L951.4 545.9L952.9 547.0L954.5 550.0L954.5 550.0L952.9 553.2L951.4 554.4L949.9 555.2L949.8 555.3L948.2 555.9L946.7 556.4L945.2 556.8L945.1 556.8L943.6 557.1L942.0 557.3L940.6 557.4L936.0 557.7L931.4 558.0L926.7 558.3L922.1 558.6L917.5 558.9L912.8 559.2L908.2 559.5L903.6 559.8L898.9 560.1L894.3 560.4L889.7 560.5L885.1 560.5L880.4 560.5L875.8 560.5L871.2 560.5L866.5 560.5L861.9 560.5L857.3 560.5L852.6 560.5L848.0 560.5L843.4 560.5L842.0 560.5L840.4 560.3L838.9 560.1L838.8 560.1L837.3 559.8L835.8 559.3L834.2 558.7L834.1 558.7L832.6 557.9L831.1 556.7L829.5 553.5Z" fill="#000" opacity="1"/><path d="M829.5 593.2L831.1 588.9L832.6 587.2L834.1 586.0L834.2 586.0L835.8 585.0L837.3 584.2L838.8 583.6L838.9 583.5L840.4 583.0L842.0 582.5L843.4 582.1L848.0 581.3L852.6 581.1L857.3 581.1L861.9 581.1L866.5 581.1L871.2 581.2L875.8 581.2L880.4 581.2L885.1 581.2L889.7 581.2L894.3 581.3L898.9 581.3L903.6 581.3L908.2 581.3L912.8 581.3L917.5 581.4L922.1 581.4L926.7 581.4L931.4 581.4L936.0 581.4L940.6 581.8L942.0 582.0L943.6 582.3L945.1 582.7L945.2 582.7L946.7 583.1L948.2 583.7L949.8 584.5L949.9 584.5L951.4 585.5L952.9 586.9L954.5 590.5L954.5 590.5L952.9 594.2L951.4 595.7L949.9 596.7L949.8 596.7L948.2 597.5L946.7 598.2L945.2 598.7L945.1 598.7L943.6 599.2L942.0 599.6L940.6 599.8L936.0 600.4L931.4 600.6L926.7 600.8L922.1 601.1L917.5 601.3L912.8 601.5L908.2 601.7L903.6 601.9L898.9 602.2L894.3 602.4L889.7 602.6L885.1 602.8L880.4 603.1L875.8 603.3L871.2 603.5L866.5 603.7L861.9 603.9L857.3 604.2L852.6 604.4L848.0 604.3L843.4 603.8L842.0 603.5L840.4 603.1L838.9 602.6L838.8 602.5L837.3 602.0L835.8 601.2L834.2 600.3L834.1 600.3L832.6 599.1L831.1 597.5L829.5 593.2Z" fill="#000" opacity="1"/></g><g filter="url(#b9)" opacity="0.38"><path d="M257.5 601.5L258.9 598.2L260.4 596.9L261.8 596.1L261.9 596.1L263.3 595.4L264.8 594.9L266.1 594.6L266.2 594.6L267.6 594.3L269.1 594.1L270.4 594.0L274.7 594.1L279.0 594.2L283.3 594.4L287.6 594.5L291.9 594.7L296.2 594.8L300.5 595.0L304.8 595.1L309.1 595.3L313.4 595.4L317.6 595.4L321.9 595.3L326.2 595.1L330.5 595.0L334.8 594.8L339.1 594.7L343.4 594.5L347.7 594.4L352.0 594.2L356.3 594.1L360.6 594.0L361.9 594.1L363.4 594.3L364.8 594.6L364.9 594.6L366.2 594.9L367.7 595.4L369.1 596.1L369.2 596.1L370.6 596.9L372.1 598.2L373.5 601.5L373.5 601.5L372.1 604.8L370.6 606.0L369.2 606.9L369.1 606.9L367.7 607.5L366.2 608.0L364.9 608.3L364.8 608.4L363.4 608.6L361.9 608.8L360.6 608.9L356.3 608.8L352.0 608.6L347.7 608.4L343.4 608.2L339.1 608.0L334.8 607.8L330.5 607.6L326.2 607.5L321.9 607.3L317.6 607.1L313.4 607.1L309.1 607.3L304.8 607.5L300.5 607.6L296.2 607.8L291.9 608.0L287.6 608.2L283.3 608.4L279.0 608.6L274.7 608.8L270.4 608.9L269.1 608.8L267.6 608.6L266.2 608.4L266.1 608.3L264.8 608.0L263.3 607.5L261.9 606.9L261.8 606.9L260.4 606.0L258.9 604.8L257.5 601.5Z" fill="#000" opacity="1"/><path d="M397.5 603.0L399.1 598.6L400.7 596.9L402.2 595.7L402.3 595.7L403.9 594.7L405.4 593.9L406.9 593.2L407.0 593.2L408.6 592.6L410.2 592.1L411.6 591.7L416.3 590.9L421.0 590.5L425.7 590.5L430.4 590.5L435.1 590.5L439.8 590.5L444.5 590.5L449.2 590.5L453.9 590.5L458.6 590.5L463.4 590.5L468.1 590.5L472.8 590.5L477.5 590.5L482.2 590.5L486.9 590.5L491.6 590.5L496.3 590.5L501.0 590.5L505.7 590.9L510.4 591.7L511.8 592.1L513.4 592.6L515.0 593.2L515.1 593.2L516.6 593.9L518.1 594.7L519.7 595.7L519.8 595.7L521.3 596.9L522.9 598.6L524.5 603.0L524.5 603.0L522.9 607.4L521.3 609.1L519.8 610.3L519.7 610.3L518.1 611.3L516.6 612.1L515.1 612.8L515.0 612.8L513.4 613.4L511.8 613.9L510.4 614.3L505.7 615.1L501.0 615.5L496.3 615.5L491.6 615.5L486.9 615.5L482.2 615.5L477.5 615.5L472.8 615.5L468.1 615.5L463.4 615.5L458.6 615.5L453.9 615.5L449.2 615.5L444.5 615.5L439.8 615.5L435.1 615.5L430.4 615.5L425.7 615.5L421.0 615.5L416.3 615.1L411.6 614.3L410.2 613.9L408.6 613.4L407.0 612.8L406.9 612.8L405.4 612.1L403.9 611.3L402.3 610.3L402.2 610.3L400.7 609.1L399.1 607.4L397.5 603.0Z" fill="#000" opacity="1"/><path d="M547.5 562.0L548.9 559.3L550.3 558.3L551.6 557.7L551.7 557.7L553.0 557.2L554.4 556.9L555.7 556.7L555.8 556.7L557.2 556.5L558.6 556.5L559.8 556.5L563.9 556.5L568.1 556.5L572.2 556.5L576.3 556.5L580.4 556.5L584.5 556.5L588.6 556.5L592.7 556.5L596.8 556.5L600.9 556.5L605.1 556.5L609.2 556.5L613.3 556.5L617.4 556.5L621.5 556.5L625.6 556.5L629.7 556.5L633.8 556.5L637.9 556.5L642.1 556.5L646.2 556.5L647.4 556.5L648.8 556.5L650.2 556.7L650.3 556.7L651.6 556.9L653.0 557.2L654.3 557.7L654.4 557.7L655.7 558.3L657.1 559.3L658.5 562.0L658.5 562.0L657.1 564.7L655.7 565.7L654.4 566.3L654.3 566.3L653.0 566.8L651.6 567.1L650.3 567.3L650.2 567.3L648.8 567.5L647.4 567.5L646.2 567.5L642.1 567.5L637.9 567.5L633.8 567.5L629.7 567.5L625.6 567.5L621.5 567.5L617.4 567.5L613.3 567.5L609.2 567.5L605.1 567.5L600.9 567.5L596.8 567.5L592.7 567.5L588.6 567.5L584.5 567.5L580.4 567.5L576.3 567.5L572.2 567.5L568.1 567.5L563.9 567.5L559.8 567.5L558.6 567.5L557.2 567.5L555.8 567.3L555.7 567.3L554.4 567.1L553.0 566.8L551.7 566.3L551.6 566.3L550.3 565.7L548.9 564.7L547.5 562.0Z" fill="#000" opacity="0.9"/><path d="M545.5 598.0L546.9 594.1L548.3 592.5L549.6 591.4L549.7 591.4L551.0 590.5L552.4 589.8L553.7 589.2L553.8 589.1L555.2 588.6L556.6 588.2L557.8 587.8L561.9 587.0L566.1 586.6L570.2 586.5L574.3 586.5L578.4 586.5L582.5 586.5L586.6 586.5L590.7 586.5L594.8 586.5L598.9 586.5L603.1 586.5L607.2 586.5L611.3 586.5L615.4 586.5L619.5 586.5L623.6 586.5L627.7 586.5L631.8 586.5L635.9 586.6L640.1 587.0L644.2 587.8L645.4 588.2L646.8 588.6L648.2 589.1L648.3 589.2L649.6 589.8L651.0 590.5L652.3 591.4L652.4 591.4L653.7 592.5L655.1 594.1L656.5 598.0L656.5 598.0L655.1 601.9L653.7 603.5L652.4 604.6L652.3 604.6L651.0 605.5L649.6 606.2L648.3 606.8L648.2 606.9L646.8 607.4L645.4 607.8L644.2 608.2L640.1 609.0L635.9 609.4L631.8 609.5L627.7 609.5L623.6 609.5L619.5 609.5L615.4 609.5L611.3 609.5L607.2 609.5L603.1 609.5L598.9 609.5L594.8 609.5L590.7 609.5L586.6 609.5L582.5 609.5L578.4 609.5L574.3 609.5L570.2 609.5L566.1 609.4L561.9 609.0L557.8 608.2L556.6 607.8L555.2 607.4L553.8 606.9L553.7 606.8L552.4 606.2L551.0 605.5L549.7 604.6L549.6 604.6L548.3 603.5L546.9 601.9L545.5 598.0Z" fill="#000" opacity="1"/><path d="M673 563C676.33 559.33 690.5 553 700 549C709.5 545 720 541.5 730 539C740 536.5 750.83 534.33 760 534C769.17 533.67 778.33 534.83 785 537C791.67 539.17 795.5 543.5 800 547C804.5 550.5 811 555 812 558C813 561 810.5 563.67 806 565C801.5 566.33 793.5 565.83 785 566C776.5 566.17 765 565.5 755 566C745 566.5 734.5 568 725 569C715.5 570 705.5 571.67 698 572C690.5 572.33 684.17 572.5 680 571C675.83 569.5 669.67 566.67 673 563Z" fill="#000" opacity="1"/><path d="M669 598C670.67 594.33 680.67 590.33 690 588C699.33 585.67 713.33 585.67 725 584C736.67 582.33 749.17 578.67 760 578C770.83 577.33 781.33 578 790 580C798.67 582 807.17 587 812 590C816.83 593 819.67 595 819 598C818.33 601 814.5 605.5 808 608C801.5 610.5 791.33 612 780 613C768.67 614 753.33 613.5 740 614C726.67 614.5 710 616.67 700 616C690 615.33 685.17 613 680 610C674.83 607 667.33 601.67 669 598Z" fill="#000" opacity="1"/><path d="M829.5 553.5L831.1 550.3L832.6 549.1L834.1 548.3L834.2 548.3L835.8 547.7L837.3 547.2L838.8 546.9L838.9 546.9L840.4 546.7L842.0 546.5L843.4 546.5L848.0 546.5L852.6 546.5L857.3 546.5L861.9 546.5L866.5 546.5L871.2 546.5L875.8 546.5L880.4 546.5L885.1 546.5L889.7 546.5L894.3 546.4L898.9 546.2L903.6 545.9L908.2 545.7L912.8 545.5L917.5 545.3L922.1 545.1L926.7 544.8L931.4 544.6L936.0 544.4L940.6 544.2L942.0 544.1L943.6 544.1L945.1 544.2L945.2 544.2L946.7 544.4L948.2 544.8L949.8 545.2L949.9 545.3L951.4 545.9L952.9 547.0L954.5 550.0L954.5 550.0L952.9 553.2L951.4 554.4L949.9 555.2L949.8 555.3L948.2 555.9L946.7 556.4L945.2 556.8L945.1 556.8L943.6 557.1L942.0 557.3L940.6 557.4L936.0 557.7L931.4 558.0L926.7 558.3L922.1 558.6L917.5 558.9L912.8 559.2L908.2 559.5L903.6 559.8L898.9 560.1L894.3 560.4L889.7 560.5L885.1 560.5L880.4 560.5L875.8 560.5L871.2 560.5L866.5 560.5L861.9 560.5L857.3 560.5L852.6 560.5L848.0 560.5L843.4 560.5L842.0 560.5L840.4 560.3L838.9 560.1L838.8 560.1L837.3 559.8L835.8 559.3L834.2 558.7L834.1 558.7L832.6 557.9L831.1 556.7L829.5 553.5Z" fill="#000" opacity="1"/><path d="M829.5 593.2L831.1 588.9L832.6 587.2L834.1 586.0L834.2 586.0L835.8 585.0L837.3 584.2L838.8 583.6L838.9 583.5L840.4 583.0L842.0 582.5L843.4 582.1L848.0 581.3L852.6 581.1L857.3 581.1L861.9 581.1L866.5 581.1L871.2 581.2L875.8 581.2L880.4 581.2L885.1 581.2L889.7 581.2L894.3 581.3L898.9 581.3L903.6 581.3L908.2 581.3L912.8 581.3L917.5 581.4L922.1 581.4L926.7 581.4L931.4 581.4L936.0 581.4L940.6 581.8L942.0 582.0L943.6 582.3L945.1 582.7L945.2 582.7L946.7 583.1L948.2 583.7L949.8 584.5L949.9 584.5L951.4 585.5L952.9 586.9L954.5 590.5L954.5 590.5L952.9 594.2L951.4 595.7L949.9 596.7L949.8 596.7L948.2 597.5L946.7 598.2L945.2 598.7L945.1 598.7L943.6 599.2L942.0 599.6L940.6 599.8L936.0 600.4L931.4 600.6L926.7 600.8L922.1 601.1L917.5 601.3L912.8 601.5L908.2 601.7L903.6 601.9L898.9 602.2L894.3 602.4L889.7 602.6L885.1 602.8L880.4 603.1L875.8 603.3L871.2 603.5L866.5 603.7L861.9 603.9L857.3 604.2L852.6 604.4L848.0 604.3L843.4 603.8L842.0 603.5L840.4 603.1L838.9 602.6L838.8 602.5L837.3 602.0L835.8 601.2L834.2 600.3L834.1 600.3L832.6 599.1L831.1 597.5L829.5 593.2Z" fill="#000" opacity="1"/></g><g filter="url(#b5)"><path d="M257.5 560.8L258.9 557.7L260.4 556.6L261.8 555.8L261.9 555.8L263.3 555.2L264.8 554.8L266.1 554.5L266.2 554.4L267.6 554.2L269.1 554.1L270.4 554.0L274.7 554.0L279.0 554.0L283.3 554.0L287.6 554.0L291.9 554.0L296.2 554.0L300.5 554.0L304.8 554.0L309.1 554.0L313.4 554.0L317.6 554.0L321.9 554.0L326.2 554.0L330.5 554.0L334.8 554.0L339.1 554.0L343.4 554.0L347.7 554.0L352.0 554.0L356.3 554.0L360.6 554.0L361.9 554.1L363.4 554.2L364.8 554.4L364.9 554.5L366.2 554.8L367.7 555.2L369.1 555.8L369.2 555.8L370.6 556.6L372.1 557.7L373.5 560.8L373.5 560.8L372.1 563.8L370.6 564.9L369.2 565.7L369.1 565.7L367.7 566.3L366.2 566.7L364.9 567.0L364.8 567.1L363.4 567.3L361.9 567.4L360.6 567.5L356.3 567.5L352.0 567.5L347.7 567.5L343.4 567.5L339.1 567.5L334.8 567.5L330.5 567.5L326.2 567.5L321.9 567.5L317.6 567.5L313.4 567.5L309.1 567.5L304.8 567.5L300.5 567.5L296.2 567.5L291.9 567.5L287.6 567.5L283.3 567.5L279.0 567.5L274.7 567.5L270.4 567.5L269.1 567.4L267.6 567.3L266.2 567.1L266.1 567.0L264.8 566.7L263.3 566.3L261.9 565.7L261.8 565.7L260.4 564.9L258.9 563.8L257.5 560.8Z" fill="#000" opacity="0.46"/><path d="M399.5 561.2L401.1 557.5L402.7 556.1L404.2 555.1L404.3 555.1L405.9 554.3L407.4 553.7L408.9 553.2L409.0 553.2L410.6 552.8L412.2 552.5L413.6 552.3L418.3 552.0L423.0 552.0L427.7 552.0L432.4 552.0L437.1 552.0L441.8 552.0L446.5 552.0L451.2 552.0L455.9 552.0L460.6 552.0L465.4 552.0L470.1 552.0L474.8 552.0L479.5 552.0L484.2 552.0L488.9 552.0L493.6 552.0L498.3 552.0L503.0 552.0L507.7 552.0L512.4 552.3L513.8 552.5L515.4 552.8L517.0 553.2L517.1 553.2L518.6 553.7L520.1 554.3L521.7 555.1L521.8 555.1L523.3 556.1L524.9 557.5L526.5 561.2L526.5 561.2L524.9 565.0L523.3 566.4L521.8 567.4L521.7 567.4L520.1 568.2L518.6 568.8L517.1 569.3L517.0 569.3L515.4 569.7L513.8 570.0L512.4 570.2L507.7 570.5L503.0 570.5L498.3 570.5L493.6 570.5L488.9 570.5L484.2 570.5L479.5 570.5L474.8 570.5L470.1 570.5L465.4 570.5L460.6 570.5L455.9 570.5L451.2 570.5L446.5 570.5L441.8 570.5L437.1 570.5L432.4 570.5L427.7 570.5L423.0 570.5L418.3 570.5L413.6 570.2L412.2 570.0L410.6 569.7L409.0 569.3L408.9 569.3L407.4 568.8L405.9 568.2L404.3 567.4L404.2 567.4L402.7 566.4L401.1 565.0L399.5 561.2Z" fill="#000" opacity="0.7"/></g><g filter="url(#b3)"><path d="M257.5 601.5L258.9 598.2L260.4 596.9L261.8 596.1L261.9 596.1L263.3 595.4L264.8 594.9L266.1 594.6L266.2 594.6L267.6 594.3L269.1 594.1L270.4 594.0L274.7 594.1L279.0 594.2L283.3 594.4L287.6 594.5L291.9 594.7L296.2 594.8L300.5 595.0L304.8 595.1L309.1 595.3L313.4 595.4L317.6 595.4L321.9 595.3L326.2 595.1L330.5 595.0L334.8 594.8L339.1 594.7L343.4 594.5L347.7 594.4L352.0 594.2L356.3 594.1L360.6 594.0L361.9 594.1L363.4 594.3L364.8 594.6L364.9 594.6L366.2 594.9L367.7 595.4L369.1 596.1L369.2 596.1L370.6 596.9L372.1 598.2L373.5 601.5L373.5 601.5L372.1 604.8L370.6 606.0L369.2 606.9L369.1 606.9L367.7 607.5L366.2 608.0L364.9 608.3L364.8 608.4L363.4 608.6L361.9 608.8L360.6 608.9L356.3 608.8L352.0 608.6L347.7 608.4L343.4 608.2L339.1 608.0L334.8 607.8L330.5 607.6L326.2 607.5L321.9 607.3L317.6 607.1L313.4 607.1L309.1 607.3L304.8 607.5L300.5 607.6L296.2 607.8L291.9 608.0L287.6 608.2L283.3 608.4L279.0 608.6L274.7 608.8L270.4 608.9L269.1 608.8L267.6 608.6L266.2 608.4L266.1 608.3L264.8 608.0L263.3 607.5L261.9 606.9L261.8 606.9L260.4 606.0L258.9 604.8L257.5 601.5Z" fill="#000" opacity="1"/><path d="M397.5 603.0L399.1 598.6L400.7 596.9L402.2 595.7L402.3 595.7L403.9 594.7L405.4 593.9L406.9 593.2L407.0 593.2L408.6 592.6L410.2 592.1L411.6 591.7L416.3 590.9L421.0 590.5L425.7 590.5L430.4 590.5L435.1 590.5L439.8 590.5L444.5 590.5L449.2 590.5L453.9 590.5L458.6 590.5L463.4 590.5L468.1 590.5L472.8 590.5L477.5 590.5L482.2 590.5L486.9 590.5L491.6 590.5L496.3 590.5L501.0 590.5L505.7 590.9L510.4 591.7L511.8 592.1L513.4 592.6L515.0 593.2L515.1 593.2L516.6 593.9L518.1 594.7L519.7 595.7L519.8 595.7L521.3 596.9L522.9 598.6L524.5 603.0L524.5 603.0L522.9 607.4L521.3 609.1L519.8 610.3L519.7 610.3L518.1 611.3L516.6 612.1L515.1 612.8L515.0 612.8L513.4 613.4L511.8 613.9L510.4 614.3L505.7 615.1L501.0 615.5L496.3 615.5L491.6 615.5L486.9 615.5L482.2 615.5L477.5 615.5L472.8 615.5L468.1 615.5L463.4 615.5L458.6 615.5L453.9 615.5L449.2 615.5L444.5 615.5L439.8 615.5L435.1 615.5L430.4 615.5L425.7 615.5L421.0 615.5L416.3 615.1L411.6 614.3L410.2 613.9L408.6 613.4L407.0 612.8L406.9 612.8L405.4 612.1L403.9 611.3L402.3 610.3L402.2 610.3L400.7 609.1L399.1 607.4L397.5 603.0Z" fill="#000" opacity="1"/><path d="M547.5 562.0L548.9 559.3L550.3 558.3L551.6 557.7L551.7 557.7L553.0 557.2L554.4 556.9L555.7 556.7L555.8 556.7L557.2 556.5L558.6 556.5L559.8 556.5L563.9 556.5L568.1 556.5L572.2 556.5L576.3 556.5L580.4 556.5L584.5 556.5L588.6 556.5L592.7 556.5L596.8 556.5L600.9 556.5L605.1 556.5L609.2 556.5L613.3 556.5L617.4 556.5L621.5 556.5L625.6 556.5L629.7 556.5L633.8 556.5L637.9 556.5L642.1 556.5L646.2 556.5L647.4 556.5L648.8 556.5L650.2 556.7L650.3 556.7L651.6 556.9L653.0 557.2L654.3 557.7L654.4 557.7L655.7 558.3L657.1 559.3L658.5 562.0L658.5 562.0L657.1 564.7L655.7 565.7L654.4 566.3L654.3 566.3L653.0 566.8L651.6 567.1L650.3 567.3L650.2 567.3L648.8 567.5L647.4 567.5L646.2 567.5L642.1 567.5L637.9 567.5L633.8 567.5L629.7 567.5L625.6 567.5L621.5 567.5L617.4 567.5L613.3 567.5L609.2 567.5L605.1 567.5L600.9 567.5L596.8 567.5L592.7 567.5L588.6 567.5L584.5 567.5L580.4 567.5L576.3 567.5L572.2 567.5L568.1 567.5L563.9 567.5L559.8 567.5L558.6 567.5L557.2 567.5L555.8 567.3L555.7 567.3L554.4 567.1L553.0 566.8L551.7 566.3L551.6 566.3L550.3 565.7L548.9 564.7L547.5 562.0Z" fill="#000" opacity="0.9"/><path d="M545.5 598.0L546.9 594.1L548.3 592.5L549.6 591.4L549.7 591.4L551.0 590.5L552.4 589.8L553.7 589.2L553.8 589.1L555.2 588.6L556.6 588.2L557.8 587.8L561.9 587.0L566.1 586.6L570.2 586.5L574.3 586.5L578.4 586.5L582.5 586.5L586.6 586.5L590.7 586.5L594.8 586.5L598.9 586.5L603.1 586.5L607.2 586.5L611.3 586.5L615.4 586.5L619.5 586.5L623.6 586.5L627.7 586.5L631.8 586.5L635.9 586.6L640.1 587.0L644.2 587.8L645.4 588.2L646.8 588.6L648.2 589.1L648.3 589.2L649.6 589.8L651.0 590.5L652.3 591.4L652.4 591.4L653.7 592.5L655.1 594.1L656.5 598.0L656.5 598.0L655.1 601.9L653.7 603.5L652.4 604.6L652.3 604.6L651.0 605.5L649.6 606.2L648.3 606.8L648.2 606.9L646.8 607.4L645.4 607.8L644.2 608.2L640.1 609.0L635.9 609.4L631.8 609.5L627.7 609.5L623.6 609.5L619.5 609.5L615.4 609.5L611.3 609.5L607.2 609.5L603.1 609.5L598.9 609.5L594.8 609.5L590.7 609.5L586.6 609.5L582.5 609.5L578.4 609.5L574.3 609.5L570.2 609.5L566.1 609.4L561.9 609.0L557.8 608.2L556.6 607.8L555.2 607.4L553.8 606.9L553.7 606.8L552.4 606.2L551.0 605.5L549.7 604.6L549.6 604.6L548.3 603.5L546.9 601.9L545.5 598.0Z" fill="#000" opacity="1"/><path d="M673 563C676.33 559.33 690.5 553 700 549C709.5 545 720 541.5 730 539C740 536.5 750.83 534.33 760 534C769.17 533.67 778.33 534.83 785 537C791.67 539.17 795.5 543.5 800 547C804.5 550.5 811 555 812 558C813 561 810.5 563.67 806 565C801.5 566.33 793.5 565.83 785 566C776.5 566.17 765 565.5 755 566C745 566.5 734.5 568 725 569C715.5 570 705.5 571.67 698 572C690.5 572.33 684.17 572.5 680 571C675.83 569.5 669.67 566.67 673 563Z" fill="#000" opacity="1"/><path d="M669 598C670.67 594.33 680.67 590.33 690 588C699.33 585.67 713.33 585.67 725 584C736.67 582.33 749.17 578.67 760 578C770.83 577.33 781.33 578 790 580C798.67 582 807.17 587 812 590C816.83 593 819.67 595 819 598C818.33 601 814.5 605.5 808 608C801.5 610.5 791.33 612 780 613C768.67 614 753.33 613.5 740 614C726.67 614.5 710 616.67 700 616C690 615.33 685.17 613 680 610C674.83 607 667.33 601.67 669 598Z" fill="#000" opacity="1"/><path d="M829.5 553.5L831.1 550.3L832.6 549.1L834.1 548.3L834.2 548.3L835.8 547.7L837.3 547.2L838.8 546.9L838.9 546.9L840.4 546.7L842.0 546.5L843.4 546.5L848.0 546.5L852.6 546.5L857.3 546.5L861.9 546.5L866.5 546.5L871.2 546.5L875.8 546.5L880.4 546.5L885.1 546.5L889.7 546.5L894.3 546.4L898.9 546.2L903.6 545.9L908.2 545.7L912.8 545.5L917.5 545.3L922.1 545.1L926.7 544.8L931.4 544.6L936.0 544.4L940.6 544.2L942.0 544.1L943.6 544.1L945.1 544.2L945.2 544.2L946.7 544.4L948.2 544.8L949.8 545.2L949.9 545.3L951.4 545.9L952.9 547.0L954.5 550.0L954.5 550.0L952.9 553.2L951.4 554.4L949.9 555.2L949.8 555.3L948.2 555.9L946.7 556.4L945.2 556.8L945.1 556.8L943.6 557.1L942.0 557.3L940.6 557.4L936.0 557.7L931.4 558.0L926.7 558.3L922.1 558.6L917.5 558.9L912.8 559.2L908.2 559.5L903.6 559.8L898.9 560.1L894.3 560.4L889.7 560.5L885.1 560.5L880.4 560.5L875.8 560.5L871.2 560.5L866.5 560.5L861.9 560.5L857.3 560.5L852.6 560.5L848.0 560.5L843.4 560.5L842.0 560.5L840.4 560.3L838.9 560.1L838.8 560.1L837.3 559.8L835.8 559.3L834.2 558.7L834.1 558.7L832.6 557.9L831.1 556.7L829.5 553.5Z" fill="#000" opacity="1"/><path d="M829.5 593.2L831.1 588.9L832.6 587.2L834.1 586.0L834.2 586.0L835.8 585.0L837.3 584.2L838.8 583.6L838.9 583.5L840.4 583.0L842.0 582.5L843.4 582.1L848.0 581.3L852.6 581.1L857.3 581.1L861.9 581.1L866.5 581.1L871.2 581.2L875.8 581.2L880.4 581.2L885.1 581.2L889.7 581.2L894.3 581.3L898.9 581.3L903.6 581.3L908.2 581.3L912.8 581.3L917.5 581.4L922.1 581.4L926.7 581.4L931.4 581.4L936.0 581.4L940.6 581.8L942.0 582.0L943.6 582.3L945.1 582.7L945.2 582.7L946.7 583.1L948.2 583.7L949.8 584.5L949.9 584.5L951.4 585.5L952.9 586.9L954.5 590.5L954.5 590.5L952.9 594.2L951.4 595.7L949.9 596.7L949.8 596.7L948.2 597.5L946.7 598.2L945.2 598.7L945.1 598.7L943.6 599.2L942.0 599.6L940.6 599.8L936.0 600.4L931.4 600.6L926.7 600.8L922.1 601.1L917.5 601.3L912.8 601.5L908.2 601.7L903.6 601.9L898.9 602.2L894.3 602.4L889.7 602.6L885.1 602.8L880.4 603.1L875.8 603.3L871.2 603.5L866.5 603.7L861.9 603.9L857.3 604.2L852.6 604.4L848.0 604.3L843.4 603.8L842.0 603.5L840.4 603.1L838.9 602.6L838.8 602.5L837.3 602.0L835.8 601.2L834.2 600.3L834.1 600.3L832.6 599.1L831.1 597.5L829.5 593.2Z" fill="#000" opacity="1"/></g><g filter="url(#b9)"><path d="M259.5 581.0L260.9 575.8L262.3 573.7L263.7 572.2L263.7 572.2L265.1 570.9L266.6 569.8L267.9 568.9L268.0 568.9L269.4 568.0L270.8 567.3L272.1 566.7L276.2 565.0L280.4 563.7L284.6 562.8L288.8 562.1L293.0 561.7L297.2 561.5L301.4 561.5L305.5 561.5L309.7 561.5L313.9 561.5L318.1 561.5L322.3 561.5L326.5 561.5L330.6 561.5L334.8 561.5L339.0 561.7L343.2 562.1L347.4 562.8L351.6 563.7L355.8 565.0L359.9 566.7L361.2 567.3L362.6 568.0L364.0 568.9L364.1 568.9L365.4 569.8L366.9 570.9L368.3 572.2L368.3 572.2L369.7 573.7L371.1 575.8L372.5 581.0L372.5 581.0L371.1 586.2L369.7 588.3L368.3 589.8L368.3 589.8L366.9 591.1L365.4 592.2L364.1 593.1L364.0 593.1L362.6 594.0L361.2 594.7L359.9 595.3L355.8 597.0L351.6 598.3L347.4 599.2L343.2 599.9L339.0 600.3L334.8 600.5L330.6 600.5L326.5 600.5L322.3 600.5L318.1 600.5L313.9 600.5L309.7 600.5L305.5 600.5L301.4 600.5L297.2 600.5L293.0 600.3L288.8 599.9L284.6 599.2L280.4 598.3L276.2 597.0L272.1 595.3L270.8 594.7L269.4 594.0L268.0 593.1L267.9 593.1L266.6 592.2L265.1 591.1L263.7 589.8L263.7 589.8L262.3 588.3L260.9 586.2L259.5 581.0Z" fill="#000" opacity="0.06"/><path d="M399.5 582.0L401.1 576.4L402.6 574.2L404.1 572.5L404.2 572.5L405.8 571.1L407.3 570.0L408.8 569.0L408.9 569.0L410.4 568.1L412.0 567.3L413.4 566.6L418.0 564.9L422.6 563.5L427.3 562.6L431.9 562.0L436.5 561.6L441.2 561.5L445.8 561.5L450.4 561.5L455.1 561.5L459.7 561.5L464.3 561.5L468.9 561.5L473.6 561.5L478.2 561.5L482.8 561.5L487.5 561.6L492.1 562.0L496.7 562.6L501.4 563.5L506.0 564.9L510.6 566.6L512.0 567.3L513.6 568.1L515.1 569.0L515.2 569.0L516.7 570.0L518.2 571.1L519.8 572.5L519.9 572.5L521.4 574.2L522.9 576.4L524.5 582.0L524.5 582.0L522.9 587.6L521.4 589.8L519.9 591.5L519.8 591.5L518.2 592.9L516.7 594.0L515.2 595.0L515.1 595.0L513.6 595.9L512.0 596.7L510.6 597.4L506.0 599.1L501.4 600.5L496.7 601.4L492.1 602.0L487.5 602.4L482.8 602.5L478.2 602.5L473.6 602.5L468.9 602.5L464.3 602.5L459.7 602.5L455.1 602.5L450.4 602.5L445.8 602.5L441.2 602.5L436.5 602.4L431.9 602.0L427.3 601.4L422.6 600.5L418.0 599.1L413.4 597.4L412.0 596.7L410.4 595.9L408.9 595.0L408.8 595.0L407.3 594.0L405.8 592.9L404.2 591.5L404.1 591.5L402.6 589.8L401.1 587.6L399.5 582.0Z" fill="#000" opacity="0.1"/><path d="M547.5 580.0L548.9 575.0L550.2 573.0L551.5 571.6L551.6 571.5L553.0 570.3L554.3 569.3L555.6 568.5L555.7 568.4L557.0 567.6L558.4 566.9L559.6 566.3L563.6 564.7L567.7 563.5L571.7 562.6L575.8 562.0L579.8 561.7L583.8 561.5L587.9 561.5L591.9 561.5L595.9 561.5L600.0 561.5L604.0 561.5L608.1 561.5L612.1 561.5L616.1 561.5L620.2 561.5L624.2 561.7L628.2 562.0L632.3 562.6L636.3 563.5L640.4 564.7L644.4 566.3L645.6 566.9L647.0 567.6L648.3 568.4L648.4 568.5L649.7 569.3L651.0 570.3L652.4 571.5L652.5 571.6L653.8 573.0L655.1 575.0L656.5 580.0L656.5 580.0L655.1 585.0L653.8 587.0L652.5 588.4L652.4 588.5L651.0 589.7L649.7 590.7L648.4 591.5L648.3 591.6L647.0 592.4L645.6 593.1L644.4 593.7L640.4 595.3L636.3 596.5L632.3 597.4L628.2 598.0L624.2 598.3L620.2 598.5L616.1 598.5L612.1 598.5L608.1 598.5L604.0 598.5L600.0 598.5L595.9 598.5L591.9 598.5L587.9 598.5L583.8 598.5L579.8 598.3L575.8 598.0L571.7 597.4L567.7 596.5L563.6 595.3L559.6 593.7L558.4 593.1L557.0 592.4L555.7 591.6L555.6 591.5L554.3 590.7L553.0 589.7L551.6 588.5L551.5 588.4L550.2 587.0L548.9 585.0L547.5 580.0Z" fill="#000" opacity="0.1"/><path d="M673.5 578.0L675.3 571.5L677.0 568.9L678.7 567.0L678.8 566.9L680.5 565.3L682.3 564.0L683.9 562.9L684.1 562.8L685.8 561.7L687.6 560.8L689.2 560.0L694.4 557.9L699.6 556.3L704.8 555.1L710.1 554.3L715.3 553.8L720.5 553.5L725.7 553.5L730.9 553.5L736.2 553.5L741.4 553.5L746.6 553.5L751.8 553.5L757.1 553.5L762.3 553.5L767.5 553.5L772.7 553.8L777.9 554.3L783.2 555.1L788.4 556.3L793.6 557.9L798.8 560.0L800.4 560.8L802.2 561.7L803.9 562.8L804.1 562.9L805.7 564.0L807.5 565.3L809.2 566.9L809.3 567.0L811.0 568.9L812.7 571.5L814.5 578.0L814.5 578.0L812.7 584.5L811.0 587.1L809.3 589.0L809.2 589.1L807.5 590.7L805.7 592.0L804.1 593.1L803.9 593.2L802.2 594.3L800.4 595.2L798.8 596.0L793.6 598.1L788.4 599.7L783.2 600.9L777.9 601.7L772.7 602.2L767.5 602.5L762.3 602.5L757.1 602.5L751.8 602.5L746.6 602.5L741.4 602.5L736.2 602.5L730.9 602.5L725.7 602.5L720.5 602.5L715.3 602.2L710.1 601.7L704.8 600.9L699.6 599.7L694.4 598.1L689.2 596.0L687.6 595.2L685.8 594.3L684.1 593.2L683.9 593.1L682.3 592.0L680.5 590.7L678.8 589.1L678.7 589.0L677.0 587.1L675.3 584.5L673.5 578.0Z" fill="#000" opacity="0.14"/><path d="M831.5 573.0L833.0 567.6L834.5 565.5L836.0 563.9L836.0 563.9L837.5 562.6L839.1 561.5L840.5 560.6L840.6 560.5L842.1 559.6L843.6 558.9L844.9 558.3L849.4 556.6L853.9 555.4L858.4 554.5L862.9 553.9L867.4 553.6L871.8 553.5L876.3 553.5L880.8 553.5L885.3 553.5L889.8 553.5L894.2 553.5L898.7 553.5L903.2 553.5L907.7 553.5L912.2 553.5L916.6 553.6L921.1 553.9L925.6 554.5L930.1 555.4L934.6 556.6L939.1 558.3L940.4 558.9L941.9 559.6L943.4 560.5L943.5 560.6L944.9 561.5L946.5 562.6L948.0 563.9L948.0 563.9L949.5 565.5L951.0 567.6L952.5 573.0L952.5 573.0L951.0 578.4L949.5 580.5L948.0 582.1L948.0 582.1L946.5 583.4L944.9 584.5L943.5 585.4L943.4 585.5L941.9 586.4L940.4 587.1L939.1 587.7L934.6 589.4L930.1 590.6L925.6 591.5L921.1 592.1L916.6 592.4L912.2 592.5L907.7 592.5L903.2 592.5L898.7 592.5L894.2 592.5L889.8 592.5L885.3 592.5L880.8 592.5L876.3 592.5L871.8 592.5L867.4 592.4L862.9 592.1L858.4 591.5L853.9 590.6L849.4 589.4L844.9 587.7L843.6 587.1L842.1 586.4L840.6 585.5L840.5 585.4L839.1 584.5L837.5 583.4L836.0 582.1L836.0 582.1L834.5 580.5L833.0 578.4L831.5 573.0Z" fill="#000" opacity="0.1"/></g></g><clipPath id="ks4"><rect x="204.5" y="658.5" width="788" height="130"/></clipPath><rect x="204.5" y="658.5" width="788" height="130" fill="#f6f6f6" filter="url(#be)"/><g clip-path="url(#ks4)"><g filter="url(#b16)" opacity="0.3"><path d="M265.5 739.0L267.0 734.2L268.5 732.3L270.0 731.0L270.0 730.9L271.6 729.8L273.1 728.9L274.5 728.1L274.6 728.0L276.1 727.3L277.6 726.7L278.9 726.2L283.4 724.9L287.9 724.1L292.4 723.6L296.9 723.5L301.4 723.5L305.8 723.5L310.3 723.5L314.8 723.5L319.3 723.5L323.8 723.5L328.2 723.5L332.7 723.5L337.2 723.5L341.7 723.5L346.2 723.5L350.6 723.5L355.1 723.5L359.6 723.6L364.1 724.1L368.6 724.9L373.1 726.2L374.4 726.7L375.9 727.3L377.4 728.0L377.5 728.1L378.9 728.9L380.4 729.8L382.0 730.9L382.0 731.0L383.5 732.3L385.0 734.2L386.5 739.0L386.5 739.0L385.0 743.8L383.5 745.7L382.0 747.0L382.0 747.1L380.4 748.2L378.9 749.1L377.5 749.9L377.4 750.0L375.9 750.7L374.4 751.3L373.1 751.8L368.6 753.1L364.1 753.9L359.6 754.4L355.1 754.5L350.6 754.5L346.2 754.5L341.7 754.5L337.2 754.5L332.7 754.5L328.2 754.5L323.8 754.5L319.3 754.5L314.8 754.5L310.3 754.5L305.8 754.5L301.4 754.5L296.9 754.5L292.4 754.4L287.9 753.9L283.4 753.1L278.9 751.8L277.6 751.3L276.1 750.7L274.6 750.0L274.5 749.9L273.1 749.1L271.6 748.2L270.0 747.1L270.0 747.0L268.5 745.7L267.0 743.8L265.5 739.0Z" fill="#000" opacity="1"/><path d="M404.5 738.0L406.1 733.0L407.8 731.1L409.3 729.7L409.4 729.6L411.0 728.4L412.6 727.5L414.1 726.7L414.2 726.6L415.9 725.9L417.5 725.3L418.9 724.8L423.8 723.6L428.6 722.8L433.4 722.5L438.2 722.5L443.0 722.5L447.8 722.5L452.6 722.5L457.5 722.5L462.3 722.5L467.1 722.5L471.9 722.5L476.7 722.5L481.5 722.5L486.4 722.5L491.2 722.5L496.0 722.5L500.8 722.5L505.6 722.5L510.4 722.8L515.2 723.6L520.1 724.8L521.5 725.3L523.1 725.9L524.8 726.6L524.9 726.7L526.4 727.5L528.0 728.4L529.6 729.6L529.7 729.7L531.2 731.1L532.9 733.0L534.5 738.0L534.5 738.0L532.9 742.9L531.2 744.8L529.7 746.2L529.6 746.2L528.0 747.4L526.4 748.3L524.9 749.0L524.8 749.1L523.1 749.7L521.5 750.3L520.1 750.8L515.2 751.8L510.4 752.4L505.6 752.6L500.8 752.5L496.0 752.3L491.2 752.2L486.4 752.0L481.5 751.9L476.7 751.7L471.9 751.6L467.1 751.6L462.3 751.7L457.5 751.9L452.6 752.0L447.8 752.2L443.0 752.3L438.2 752.5L433.4 752.6L428.6 752.4L423.8 751.8L418.9 750.8L417.5 750.3L415.9 749.7L414.2 749.1L414.1 749.0L412.6 748.3L411.0 747.4L409.4 746.2L409.3 746.2L407.8 744.8L406.1 742.9L404.5 738.0Z" fill="#000" opacity="1"/><path d="M546.5 735.0L548.1 730.1L549.7 728.2L551.3 726.8L551.3 726.7L553.0 725.6L554.6 724.7L556.1 723.9L556.2 723.8L557.8 723.1L559.4 722.5L560.8 722.1L565.6 720.9L570.4 720.1L575.2 719.8L579.9 719.8L584.7 719.8L589.5 719.8L594.3 719.9L599.1 719.9L603.8 719.9L608.6 720.0L613.4 720.0L618.2 720.1L622.9 720.1L627.7 720.1L632.5 720.2L637.3 720.2L642.1 720.2L646.8 720.4L651.6 720.8L656.4 721.7L661.2 723.0L662.6 723.5L664.2 724.2L665.8 724.9L665.9 725.0L667.4 725.8L669.0 726.8L670.7 728.0L670.7 728.0L672.3 729.5L673.9 731.5L675.5 736.5L675.5 736.5L673.9 741.5L672.3 743.5L670.7 744.8L670.7 744.9L669.0 746.0L667.4 747.0L665.9 747.8L665.8 747.8L664.2 748.5L662.6 749.2L661.2 749.6L656.4 750.9L651.6 751.6L646.8 752.0L642.1 752.0L637.3 751.9L632.5 751.8L627.7 751.8L622.9 751.7L618.2 751.6L613.4 751.5L608.6 751.5L603.8 751.4L599.1 751.3L594.3 751.2L589.5 751.2L584.7 751.1L579.9 751.0L575.2 750.9L570.4 750.4L565.6 749.6L560.8 748.3L559.4 747.8L557.8 747.1L556.2 746.4L556.1 746.3L554.6 745.5L553.0 744.5L551.3 743.4L551.3 743.3L549.7 741.9L548.1 740.0L546.5 735.0Z" fill="#000" opacity="1"/><path d="M686.5 733.0L688.1 727.5L689.6 725.3L691.1 723.8L691.2 723.7L692.8 722.4L694.3 721.2L695.8 720.3L695.9 720.3L697.4 719.4L699.0 718.6L700.4 718.0L705.0 716.3L709.6 715.0L714.3 714.1L718.9 713.5L723.5 713.2L728.2 713.2L732.8 713.1L737.4 713.1L742.1 713.1L746.7 713.0L751.3 713.0L755.9 712.9L760.6 712.9L765.2 712.9L769.8 712.8L774.5 712.8L779.1 713.1L783.7 713.6L788.4 714.5L793.0 715.7L797.6 717.4L799.0 718.0L800.6 718.8L802.1 719.7L802.2 719.8L803.7 720.7L805.2 721.8L806.8 723.1L806.9 723.2L808.4 724.8L809.9 727.0L811.5 732.5L811.5 732.5L809.9 738.0L808.4 740.3L806.9 741.9L806.8 741.9L805.2 743.3L803.7 744.4L802.2 745.3L802.1 745.4L800.6 746.3L799.0 747.1L797.6 747.7L793.0 749.4L788.4 750.7L783.7 751.6L779.1 752.2L774.5 752.5L769.8 752.5L765.2 752.5L760.6 752.5L755.9 752.5L751.3 752.5L746.7 752.5L742.1 752.5L737.4 752.5L732.8 752.5L728.2 752.5L723.5 752.5L718.9 752.2L714.3 751.6L709.6 750.8L705.0 749.6L700.4 747.9L699.0 747.3L697.4 746.5L695.9 745.7L695.8 745.6L694.3 744.7L692.8 743.6L691.2 742.3L691.1 742.2L689.6 740.6L688.1 738.5L686.5 733.0Z" fill="#000" opacity="1"/><path d="M825.5 732.0L827.2 726.4L828.9 724.1L830.6 722.5L830.6 722.4L832.4 721.0L834.1 719.9L835.6 718.9L835.8 718.9L837.5 718.0L839.2 717.2L840.7 716.5L845.8 714.8L850.9 713.6L855.9 712.9L861.0 712.5L866.1 712.3L871.2 712.2L876.2 712.0L881.3 711.9L886.4 711.7L891.5 711.6L896.5 711.2L901.6 710.7L906.7 710.2L911.8 709.7L916.8 709.2L921.9 708.6L927.0 708.1L932.1 707.9L937.1 708.0L942.2 708.5L947.3 709.5L948.8 710.0L950.5 710.5L952.2 711.2L952.4 711.3L953.9 712.0L955.6 712.9L957.4 714.1L957.4 714.1L959.1 715.6L960.8 717.6L962.5 723.0L962.5 723.0L960.8 728.7L959.1 731.1L957.4 732.8L957.4 732.9L955.6 734.4L953.9 735.6L952.4 736.7L952.2 736.7L950.5 737.7L948.8 738.6L947.3 739.3L942.2 741.3L937.1 742.8L932.1 743.9L927.0 744.6L921.9 745.1L916.8 745.5L911.8 745.9L906.7 746.4L901.6 746.8L896.5 747.3L891.5 747.6L886.4 747.8L881.3 748.1L876.2 748.3L871.2 748.5L866.1 748.7L861.0 748.9L855.9 748.9L850.9 748.5L845.8 747.7L840.7 746.3L839.2 745.8L837.5 745.2L835.8 744.4L835.6 744.3L834.1 743.5L832.4 742.5L830.6 741.2L830.6 741.2L828.9 739.6L827.2 737.5L825.5 732.0Z" fill="#000" opacity="1"/></g><g filter="url(#b9)" opacity="0.38"><path d="M265.5 739.0L267.0 734.2L268.5 732.3L270.0 731.0L270.0 730.9L271.6 729.8L273.1 728.9L274.5 728.1L274.6 728.0L276.1 727.3L277.6 726.7L278.9 726.2L283.4 724.9L287.9 724.1L292.4 723.6L296.9 723.5L301.4 723.5L305.8 723.5L310.3 723.5L314.8 723.5L319.3 723.5L323.8 723.5L328.2 723.5L332.7 723.5L337.2 723.5L341.7 723.5L346.2 723.5L350.6 723.5L355.1 723.5L359.6 723.6L364.1 724.1L368.6 724.9L373.1 726.2L374.4 726.7L375.9 727.3L377.4 728.0L377.5 728.1L378.9 728.9L380.4 729.8L382.0 730.9L382.0 731.0L383.5 732.3L385.0 734.2L386.5 739.0L386.5 739.0L385.0 743.8L383.5 745.7L382.0 747.0L382.0 747.1L380.4 748.2L378.9 749.1L377.5 749.9L377.4 750.0L375.9 750.7L374.4 751.3L373.1 751.8L368.6 753.1L364.1 753.9L359.6 754.4L355.1 754.5L350.6 754.5L346.2 754.5L341.7 754.5L337.2 754.5L332.7 754.5L328.2 754.5L323.8 754.5L319.3 754.5L314.8 754.5L310.3 754.5L305.8 754.5L301.4 754.5L296.9 754.5L292.4 754.4L287.9 753.9L283.4 753.1L278.9 751.8L277.6 751.3L276.1 750.7L274.6 750.0L274.5 749.9L273.1 749.1L271.6 748.2L270.0 747.1L270.0 747.0L268.5 745.7L267.0 743.8L265.5 739.0Z" fill="#000" opacity="1"/><path d="M404.5 738.0L406.1 733.0L407.8 731.1L409.3 729.7L409.4 729.6L411.0 728.4L412.6 727.5L414.1 726.7L414.2 726.6L415.9 725.9L417.5 725.3L418.9 724.8L423.8 723.6L428.6 722.8L433.4 722.5L438.2 722.5L443.0 722.5L447.8 722.5L452.6 722.5L457.5 722.5L462.3 722.5L467.1 722.5L471.9 722.5L476.7 722.5L481.5 722.5L486.4 722.5L491.2 722.5L496.0 722.5L500.8 722.5L505.6 722.5L510.4 722.8L515.2 723.6L520.1 724.8L521.5 725.3L523.1 725.9L524.8 726.6L524.9 726.7L526.4 727.5L528.0 728.4L529.6 729.6L529.7 729.7L531.2 731.1L532.9 733.0L534.5 738.0L534.5 738.0L532.9 742.9L531.2 744.8L529.7 746.2L529.6 746.2L528.0 747.4L526.4 748.3L524.9 749.0L524.8 749.1L523.1 749.7L521.5 750.3L520.1 750.8L515.2 751.8L510.4 752.4L505.6 752.6L500.8 752.5L496.0 752.3L491.2 752.2L486.4 752.0L481.5 751.9L476.7 751.7L471.9 751.6L467.1 751.6L462.3 751.7L457.5 751.9L452.6 752.0L447.8 752.2L443.0 752.3L438.2 752.5L433.4 752.6L428.6 752.4L423.8 751.8L418.9 750.8L417.5 750.3L415.9 749.7L414.2 749.1L414.1 749.0L412.6 748.3L411.0 747.4L409.4 746.2L409.3 746.2L407.8 744.8L406.1 742.9L404.5 738.0Z" fill="#000" opacity="1"/><path d="M546.5 735.0L548.1 730.1L549.7 728.2L551.3 726.8L551.3 726.7L553.0 725.6L554.6 724.7L556.1 723.9L556.2 723.8L557.8 723.1L559.4 722.5L560.8 722.1L565.6 720.9L570.4 720.1L575.2 719.8L579.9 719.8L584.7 719.8L589.5 719.8L594.3 719.9L599.1 719.9L603.8 719.9L608.6 720.0L613.4 720.0L618.2 720.1L622.9 720.1L627.7 720.1L632.5 720.2L637.3 720.2L642.1 720.2L646.8 720.4L651.6 720.8L656.4 721.7L661.2 723.0L662.6 723.5L664.2 724.2L665.8 724.9L665.9 725.0L667.4 725.8L669.0 726.8L670.7 728.0L670.7 728.0L672.3 729.5L673.9 731.5L675.5 736.5L675.5 736.5L673.9 741.5L672.3 743.5L670.7 744.8L670.7 744.9L669.0 746.0L667.4 747.0L665.9 747.8L665.8 747.8L664.2 748.5L662.6 749.2L661.2 749.6L656.4 750.9L651.6 751.6L646.8 752.0L642.1 752.0L637.3 751.9L632.5 751.8L627.7 751.8L622.9 751.7L618.2 751.6L613.4 751.5L608.6 751.5L603.8 751.4L599.1 751.3L594.3 751.2L589.5 751.2L584.7 751.1L579.9 751.0L575.2 750.9L570.4 750.4L565.6 749.6L560.8 748.3L559.4 747.8L557.8 747.1L556.2 746.4L556.1 746.3L554.6 745.5L553.0 744.5L551.3 743.4L551.3 743.3L549.7 741.9L548.1 740.0L546.5 735.0Z" fill="#000" opacity="1"/><path d="M686.5 733.0L688.1 727.5L689.6 725.3L691.1 723.8L691.2 723.7L692.8 722.4L694.3 721.2L695.8 720.3L695.9 720.3L697.4 719.4L699.0 718.6L700.4 718.0L705.0 716.3L709.6 715.0L714.3 714.1L718.9 713.5L723.5 713.2L728.2 713.2L732.8 713.1L737.4 713.1L742.1 713.1L746.7 713.0L751.3 713.0L755.9 712.9L760.6 712.9L765.2 712.9L769.8 712.8L774.5 712.8L779.1 713.1L783.7 713.6L788.4 714.5L793.0 715.7L797.6 717.4L799.0 718.0L800.6 718.8L802.1 719.7L802.2 719.8L803.7 720.7L805.2 721.8L806.8 723.1L806.9 723.2L808.4 724.8L809.9 727.0L811.5 732.5L811.5 732.5L809.9 738.0L808.4 740.3L806.9 741.9L806.8 741.9L805.2 743.3L803.7 744.4L802.2 745.3L802.1 745.4L800.6 746.3L799.0 747.1L797.6 747.7L793.0 749.4L788.4 750.7L783.7 751.6L779.1 752.2L774.5 752.5L769.8 752.5L765.2 752.5L760.6 752.5L755.9 752.5L751.3 752.5L746.7 752.5L742.1 752.5L737.4 752.5L732.8 752.5L728.2 752.5L723.5 752.5L718.9 752.2L714.3 751.6L709.6 750.8L705.0 749.6L700.4 747.9L699.0 747.3L697.4 746.5L695.9 745.7L695.8 745.6L694.3 744.7L692.8 743.6L691.2 742.3L691.1 742.2L689.6 740.6L688.1 738.5L686.5 733.0Z" fill="#000" opacity="1"/><path d="M825.5 732.0L827.2 726.4L828.9 724.1L830.6 722.5L830.6 722.4L832.4 721.0L834.1 719.9L835.6 718.9L835.8 718.9L837.5 718.0L839.2 717.2L840.7 716.5L845.8 714.8L850.9 713.6L855.9 712.9L861.0 712.5L866.1 712.3L871.2 712.2L876.2 712.0L881.3 711.9L886.4 711.7L891.5 711.6L896.5 711.2L901.6 710.7L906.7 710.2L911.8 709.7L916.8 709.2L921.9 708.6L927.0 708.1L932.1 707.9L937.1 708.0L942.2 708.5L947.3 709.5L948.8 710.0L950.5 710.5L952.2 711.2L952.4 711.3L953.9 712.0L955.6 712.9L957.4 714.1L957.4 714.1L959.1 715.6L960.8 717.6L962.5 723.0L962.5 723.0L960.8 728.7L959.1 731.1L957.4 732.8L957.4 732.9L955.6 734.4L953.9 735.6L952.4 736.7L952.2 736.7L950.5 737.7L948.8 738.6L947.3 739.3L942.2 741.3L937.1 742.8L932.1 743.9L927.0 744.6L921.9 745.1L916.8 745.5L911.8 745.9L906.7 746.4L901.6 746.8L896.5 747.3L891.5 747.6L886.4 747.8L881.3 748.1L876.2 748.3L871.2 748.5L866.1 748.7L861.0 748.9L855.9 748.9L850.9 748.5L845.8 747.7L840.7 746.3L839.2 745.8L837.5 745.2L835.8 744.4L835.6 744.3L834.1 743.5L832.4 742.5L830.6 741.2L830.6 741.2L828.9 739.6L827.2 737.5L825.5 732.0Z" fill="#000" opacity="1"/></g><g filter="url(#b3)"><path d="M265.5 739.0L267.0 734.2L268.5 732.3L270.0 731.0L270.0 730.9L271.6 729.8L273.1 728.9L274.5 728.1L274.6 728.0L276.1 727.3L277.6 726.7L278.9 726.2L283.4 724.9L287.9 724.1L292.4 723.6L296.9 723.5L301.4 723.5L305.8 723.5L310.3 723.5L314.8 723.5L319.3 723.5L323.8 723.5L328.2 723.5L332.7 723.5L337.2 723.5L341.7 723.5L346.2 723.5L350.6 723.5L355.1 723.5L359.6 723.6L364.1 724.1L368.6 724.9L373.1 726.2L374.4 726.7L375.9 727.3L377.4 728.0L377.5 728.1L378.9 728.9L380.4 729.8L382.0 730.9L382.0 731.0L383.5 732.3L385.0 734.2L386.5 739.0L386.5 739.0L385.0 743.8L383.5 745.7L382.0 747.0L382.0 747.1L380.4 748.2L378.9 749.1L377.5 749.9L377.4 750.0L375.9 750.7L374.4 751.3L373.1 751.8L368.6 753.1L364.1 753.9L359.6 754.4L355.1 754.5L350.6 754.5L346.2 754.5L341.7 754.5L337.2 754.5L332.7 754.5L328.2 754.5L323.8 754.5L319.3 754.5L314.8 754.5L310.3 754.5L305.8 754.5L301.4 754.5L296.9 754.5L292.4 754.4L287.9 753.9L283.4 753.1L278.9 751.8L277.6 751.3L276.1 750.7L274.6 750.0L274.5 749.9L273.1 749.1L271.6 748.2L270.0 747.1L270.0 747.0L268.5 745.7L267.0 743.8L265.5 739.0Z" fill="#000" opacity="1"/><path d="M404.5 738.0L406.1 733.0L407.8 731.1L409.3 729.7L409.4 729.6L411.0 728.4L412.6 727.5L414.1 726.7L414.2 726.6L415.9 725.9L417.5 725.3L418.9 724.8L423.8 723.6L428.6 722.8L433.4 722.5L438.2 722.5L443.0 722.5L447.8 722.5L452.6 722.5L457.5 722.5L462.3 722.5L467.1 722.5L471.9 722.5L476.7 722.5L481.5 722.5L486.4 722.5L491.2 722.5L496.0 722.5L500.8 722.5L505.6 722.5L510.4 722.8L515.2 723.6L520.1 724.8L521.5 725.3L523.1 725.9L524.8 726.6L524.9 726.7L526.4 727.5L528.0 728.4L529.6 729.6L529.7 729.7L531.2 731.1L532.9 733.0L534.5 738.0L534.5 738.0L532.9 742.9L531.2 744.8L529.7 746.2L529.6 746.2L528.0 747.4L526.4 748.3L524.9 749.0L524.8 749.1L523.1 749.7L521.5 750.3L520.1 750.8L515.2 751.8L510.4 752.4L505.6 752.6L500.8 752.5L496.0 752.3L491.2 752.2L486.4 752.0L481.5 751.9L476.7 751.7L471.9 751.6L467.1 751.6L462.3 751.7L457.5 751.9L452.6 752.0L447.8 752.2L443.0 752.3L438.2 752.5L433.4 752.6L428.6 752.4L423.8 751.8L418.9 750.8L417.5 750.3L415.9 749.7L414.2 749.1L414.1 749.0L412.6 748.3L411.0 747.4L409.4 746.2L409.3 746.2L407.8 744.8L406.1 742.9L404.5 738.0Z" fill="#000" opacity="1"/><path d="M546.5 735.0L548.1 730.1L549.7 728.2L551.3 726.8L551.3 726.7L553.0 725.6L554.6 724.7L556.1 723.9L556.2 723.8L557.8 723.1L559.4 722.5L560.8 722.1L565.6 720.9L570.4 720.1L575.2 719.8L579.9 719.8L584.7 719.8L589.5 719.8L594.3 719.9L599.1 719.9L603.8 719.9L608.6 720.0L613.4 720.0L618.2 720.1L622.9 720.1L627.7 720.1L632.5 720.2L637.3 720.2L642.1 720.2L646.8 720.4L651.6 720.8L656.4 721.7L661.2 723.0L662.6 723.5L664.2 724.2L665.8 724.9L665.9 725.0L667.4 725.8L669.0 726.8L670.7 728.0L670.7 728.0L672.3 729.5L673.9 731.5L675.5 736.5L675.5 736.5L673.9 741.5L672.3 743.5L670.7 744.8L670.7 744.9L669.0 746.0L667.4 747.0L665.9 747.8L665.8 747.8L664.2 748.5L662.6 749.2L661.2 749.6L656.4 750.9L651.6 751.6L646.8 752.0L642.1 752.0L637.3 751.9L632.5 751.8L627.7 751.8L622.9 751.7L618.2 751.6L613.4 751.5L608.6 751.5L603.8 751.4L599.1 751.3L594.3 751.2L589.5 751.2L584.7 751.1L579.9 751.0L575.2 750.9L570.4 750.4L565.6 749.6L560.8 748.3L559.4 747.8L557.8 747.1L556.2 746.4L556.1 746.3L554.6 745.5L553.0 744.5L551.3 743.4L551.3 743.3L549.7 741.9L548.1 740.0L546.5 735.0Z" fill="#000" opacity="1"/><path d="M686.5 733.0L688.1 727.5L689.6 725.3L691.1 723.8L691.2 723.7L692.8 722.4L694.3 721.2L695.8 720.3L695.9 720.3L697.4 719.4L699.0 718.6L700.4 718.0L705.0 716.3L709.6 715.0L714.3 714.1L718.9 713.5L723.5 713.2L728.2 713.2L732.8 713.1L737.4 713.1L742.1 713.1L746.7 713.0L751.3 713.0L755.9 712.9L760.6 712.9L765.2 712.9L769.8 712.8L774.5 712.8L779.1 713.1L783.7 713.6L788.4 714.5L793.0 715.7L797.6 717.4L799.0 718.0L800.6 718.8L802.1 719.7L802.2 719.8L803.7 720.7L805.2 721.8L806.8 723.1L806.9 723.2L808.4 724.8L809.9 727.0L811.5 732.5L811.5 732.5L809.9 738.0L808.4 740.3L806.9 741.9L806.8 741.9L805.2 743.3L803.7 744.4L802.2 745.3L802.1 745.4L800.6 746.3L799.0 747.1L797.6 747.7L793.0 749.4L788.4 750.7L783.7 751.6L779.1 752.2L774.5 752.5L769.8 752.5L765.2 752.5L760.6 752.5L755.9 752.5L751.3 752.5L746.7 752.5L742.1 752.5L737.4 752.5L732.8 752.5L728.2 752.5L723.5 752.5L718.9 752.2L714.3 751.6L709.6 750.8L705.0 749.6L700.4 747.9L699.0 747.3L697.4 746.5L695.9 745.7L695.8 745.6L694.3 744.7L692.8 743.6L691.2 742.3L691.1 742.2L689.6 740.6L688.1 738.5L686.5 733.0Z" fill="#000" opacity="1"/><path d="M825.5 732.0L827.2 726.4L828.9 724.1L830.6 722.5L830.6 722.4L832.4 721.0L834.1 719.9L835.6 718.9L835.8 718.9L837.5 718.0L839.2 717.2L840.7 716.5L845.8 714.8L850.9 713.6L855.9 712.9L861.0 712.5L866.1 712.3L871.2 712.2L876.2 712.0L881.3 711.9L886.4 711.7L891.5 711.6L896.5 711.2L901.6 710.7L906.7 710.2L911.8 709.7L916.8 709.2L921.9 708.6L927.0 708.1L932.1 707.9L937.1 708.0L942.2 708.5L947.3 709.5L948.8 710.0L950.5 710.5L952.2 711.2L952.4 711.3L953.9 712.0L955.6 712.9L957.4 714.1L957.4 714.1L959.1 715.6L960.8 717.6L962.5 723.0L962.5 723.0L960.8 728.7L959.1 731.1L957.4 732.8L957.4 732.9L955.6 734.4L953.9 735.6L952.4 736.7L952.2 736.7L950.5 737.7L948.8 738.6L947.3 739.3L942.2 741.3L937.1 742.8L932.1 743.9L927.0 744.6L921.9 745.1L916.8 745.5L911.8 745.9L906.7 746.4L901.6 746.8L896.5 747.3L891.5 747.6L886.4 747.8L881.3 748.1L876.2 748.3L871.2 748.5L866.1 748.7L861.0 748.9L855.9 748.9L850.9 748.5L845.8 747.7L840.7 746.3L839.2 745.8L837.5 745.2L835.8 744.4L835.6 744.3L834.1 743.5L832.4 742.5L830.6 741.2L830.6 741.2L828.9 739.6L827.2 737.5L825.5 732.0Z" fill="#000" opacity="1"/></g></g>
<g filter="url(#soft)">
<text transform="translate(174 260.5) scale(1 1.04)" font-size="38.6" text-anchor="end">MKP-1</text><text transform="translate(171 430) scale(1 1.04)" font-size="38.6" text-anchor="end">p-ERK</text><text transform="translate(171 592) scale(1 1.04)" font-size="38.6" text-anchor="end">ERK</text><text transform="translate(173 737) scale(1 1.04)" font-size="38.6" text-anchor="end">GAPDH</text><text transform="translate(313 180) rotate(-45) scale(1 1.04)" font-size="38.5" text-anchor="start">Control</text><text transform="translate(463 174) rotate(-45) scale(1 1.04)" font-size="38.5" text-anchor="start">I/R</text><text transform="translate(594 174) rotate(-45) scale(1 1.04)" font-size="38.5" text-anchor="start">Saline</text><text transform="translate(709 179) rotate(-45) scale(1 1.04)" font-size="38.5" text-anchor="start">Estradiol</text><text transform="translate(853 178.5) rotate(-45) scale(1 1.04)" font-size="38.5" text-anchor="start">Inhibitor</text>
<text transform="translate(36 78.4) scale(1 1.04)" font-size="62" text-anchor="start">A</text>
<text transform="translate(1063.2 81.8) scale(1 1.04)" font-size="62" text-anchor="start">B</text>
<text transform="translate(23 904.7) scale(1 1.04)" font-size="62" text-anchor="start">C</text>
<text transform="translate(1047.3 904.8) scale(1 1.04)" font-size="62" text-anchor="start">D</text>
<g><path d="M1222 138.6V645.7" stroke="#000" stroke-width="5.6" fill="none"/><path d="M1205.5 645.5H1979" stroke="#000" stroke-width="5.199999999999999" fill="none"/><text transform="translate(1198.3 662.69) scale(1 1.04)" font-size="43" text-anchor="end">0.0</text><path d="M1205.5 519.62H1222" stroke="#000" stroke-width="4.8" fill="none"/><text transform="translate(1198.3 536.62) scale(1 1.04)" font-size="43" text-anchor="end">0.5</text><path d="M1205.5 393.55H1222" stroke="#000" stroke-width="4.8" fill="none"/><text transform="translate(1198.3 410.54) scale(1 1.04)" font-size="43" text-anchor="end">1.0</text><path d="M1205.5 267.48H1222" stroke="#000" stroke-width="4.8" fill="none"/><text transform="translate(1198.3 284.47) scale(1 1.04)" font-size="43" text-anchor="end">1.5</text><path d="M1205.5 141.4H1222" stroke="#000" stroke-width="4.8" fill="none"/><text transform="translate(1198.3 158.39) scale(1 1.04)" font-size="43" text-anchor="end">2.0</text><clipPath id="c1"><rect x="1247.3" y="408.8" width="101" height="236.9"/></clipPath><path d="M1243.3 387.86L1352.3 279.95M1243.3 413.06L1352.3 305.15M1243.3 438.26L1352.3 330.35M1243.3 463.46L1352.3 355.55M1243.3 488.66L1352.3 380.75M1243.3 513.86L1352.3 405.95M1243.3 539.06L1352.3 431.15M1243.3 564.26L1352.3 456.35M1243.3 589.46L1352.3 481.55M1243.3 614.66L1352.3 506.75M1243.3 639.86L1352.3 531.95M1243.3 665.06L1352.3 557.15M1243.3 690.26L1352.3 582.35M1243.3 715.46L1352.3 607.55M1243.3 740.66L1352.3 632.75" clip-path="url(#c1)" stroke="#000" stroke-width="4.4" fill="none"/><path d="M1247.3 645.7V408.8H1348.3V645.7" stroke="#000" stroke-width="6.0" fill="none" stroke-linejoin="round"/><path d="M1273 405.8H1322.6M1273 411.8H1322.6" stroke="#000" stroke-width="5.4" stroke-linecap="round" fill="none"/><path d="M1297.8 405.8V411.8" stroke="#000" stroke-width="5.6" fill="none"/><path d="M1297.8 645.7V662.7" stroke="#000" stroke-width="4.8" fill="none"/><text transform="translate(1309.8 697.7) rotate(-45) scale(1 1.04)" font-size="42.6" text-anchor="end">Control</text><clipPath id="c2"><rect x="1397.9" y="332" width="101" height="313.7"/></clipPath><path d="M1393.9 308.96L1502.9 201.05M1393.9 334.16L1502.9 226.25M1393.9 359.36L1502.9 251.45M1393.9 384.56L1502.9 276.65M1393.9 409.76L1502.9 301.85M1393.9 434.96L1502.9 327.05M1393.9 460.16L1502.9 352.25M1393.9 485.36L1502.9 377.45M1393.9 510.56L1502.9 402.65M1393.9 535.76L1502.9 427.85M1393.9 560.96L1502.9 453.05M1393.9 586.16L1502.9 478.25M1393.9 611.36L1502.9 503.45M1393.9 636.56L1502.9 528.65M1393.9 661.76L1502.9 553.85M1393.9 686.96L1502.9 579.05M1393.9 712.16L1502.9 604.25M1393.9 737.36L1502.9 629.45" clip-path="url(#c2)" stroke="#000" stroke-width="4.4" fill="none"/><path d="M1397.9 645.7V332H1498.9V645.7" stroke="#000" stroke-width="6.0" fill="none" stroke-linejoin="round"/><path d="M1423.6 321H1473.2M1423.6 342.3H1473.2" stroke="#000" stroke-width="5.4" stroke-linecap="round" fill="none"/><path d="M1448.4 321V342.3" stroke="#000" stroke-width="5.6" fill="none"/><path d="M1448.4 645.7V662.7" stroke="#000" stroke-width="4.8" fill="none"/><text transform="translate(1474.4 698.2) rotate(-45) scale(1 1.04)" font-size="42.6" text-anchor="end">I/R</text><clipPath id="c3"><rect x="1548.7" y="324.5" width="101" height="321.2"/></clipPath><path d="M1544.7 301.26L1653.7 193.35M1544.7 326.46L1653.7 218.55M1544.7 351.66L1653.7 243.75M1544.7 376.86L1653.7 268.95M1544.7 402.06L1653.7 294.15M1544.7 427.26L1653.7 319.35M1544.7 452.46L1653.7 344.55M1544.7 477.66L1653.7 369.75M1544.7 502.86L1653.7 394.95M1544.7 528.06L1653.7 420.15M1544.7 553.26L1653.7 445.35M1544.7 578.46L1653.7 470.55M1544.7 603.66L1653.7 495.75M1544.7 628.86L1653.7 520.95M1544.7 654.06L1653.7 546.15M1544.7 679.26L1653.7 571.35M1544.7 704.46L1653.7 596.55M1544.7 729.66L1653.7 621.75M1544.7 754.86L1653.7 646.95" clip-path="url(#c3)" stroke="#000" stroke-width="4.4" fill="none"/><path d="M1548.7 645.7V324.5H1649.7V645.7" stroke="#000" stroke-width="6.0" fill="none" stroke-linejoin="round"/><path d="M1574.4 315.7H1624M1574.4 331.6H1624" stroke="#000" stroke-width="5.4" stroke-linecap="round" fill="none"/><path d="M1599.2 315.7V331.6" stroke="#000" stroke-width="5.6" fill="none"/><path d="M1599.2 645.7V662.7" stroke="#000" stroke-width="4.8" fill="none"/><text transform="translate(1609.4 697.7) rotate(-45) scale(1 1.04)" font-size="42.6" text-anchor="end">Saline</text><clipPath id="c4"><rect x="1699.7" y="215.4" width="101" height="430.3"/></clipPath><path d="M1695.7 192.06L1804.7 84.15M1695.7 217.26L1804.7 109.35M1695.7 242.46L1804.7 134.55M1695.7 267.66L1804.7 159.75M1695.7 292.86L1804.7 184.95M1695.7 318.06L1804.7 210.15M1695.7 343.26L1804.7 235.35M1695.7 368.46L1804.7 260.55M1695.7 393.66L1804.7 285.75M1695.7 418.86L1804.7 310.95M1695.7 444.06L1804.7 336.15M1695.7 469.26L1804.7 361.35M1695.7 494.46L1804.7 386.55M1695.7 519.66L1804.7 411.75M1695.7 544.86L1804.7 436.95M1695.7 570.06L1804.7 462.15M1695.7 595.26L1804.7 487.35M1695.7 620.46L1804.7 512.55M1695.7 645.66L1804.7 537.75M1695.7 670.86L1804.7 562.95M1695.7 696.06L1804.7 588.15M1695.7 721.26L1804.7 613.35M1695.7 746.46L1804.7 638.55" clip-path="url(#c4)" stroke="#000" stroke-width="4.4" fill="none"/><path d="M1699.7 645.7V215.4H1800.7V645.7" stroke="#000" stroke-width="6.0" fill="none" stroke-linejoin="round"/><path d="M1725.4 197H1775M1725.4 234.2H1775" stroke="#000" stroke-width="5.4" stroke-linecap="round" fill="none"/><path d="M1750.2 197V234.2" stroke="#000" stroke-width="5.6" fill="none"/><path d="M1750.2 645.7V662.7" stroke="#000" stroke-width="4.8" fill="none"/><text transform="translate(1770.1 698.2) rotate(-45) scale(1 1.04)" font-size="42.6" text-anchor="end">Estradiol</text><clipPath id="c5"><rect x="1851.2" y="346" width="101" height="299.7"/></clipPath><path d="M1847.2 323.16L1956.2 215.25M1847.2 348.36L1956.2 240.45M1847.2 373.56L1956.2 265.65M1847.2 398.76L1956.2 290.85M1847.2 423.96L1956.2 316.05M1847.2 449.16L1956.2 341.25M1847.2 474.36L1956.2 366.45M1847.2 499.56L1956.2 391.65M1847.2 524.76L1956.2 416.85M1847.2 549.96L1956.2 442.05M1847.2 575.16L1956.2 467.25M1847.2 600.36L1956.2 492.45M1847.2 625.56L1956.2 517.65M1847.2 650.76L1956.2 542.85M1847.2 675.96L1956.2 568.05M1847.2 701.16L1956.2 593.25M1847.2 726.36L1956.2 618.45M1847.2 751.56L1956.2 643.65" clip-path="url(#c5)" stroke="#000" stroke-width="4.4" fill="none"/><path d="M1851.2 645.7V346H1952.2V645.7" stroke="#000" stroke-width="6.0" fill="none" stroke-linejoin="round"/><path d="M1876.9 333.9H1926.5M1876.9 358.7H1926.5" stroke="#000" stroke-width="5.4" stroke-linecap="round" fill="none"/><path d="M1901.7 333.9V358.7" stroke="#000" stroke-width="5.6" fill="none"/><path d="M1901.7 645.7V662.7" stroke="#000" stroke-width="4.8" fill="none"/><text transform="translate(1918.7 698.7) rotate(-45) scale(1 1.04)" font-size="42.6" text-anchor="end">Inhibitor</text><text transform="translate(1101.6 379) rotate(-90) scale(1 1.04)" font-size="48.8" text-anchor="middle">Relative ERK level</text></g>
<g><path d="M176.6 962.1V1471" stroke="#000" stroke-width="5.6" fill="none"/><path d="M160.1 1470.8H925.5" stroke="#000" stroke-width="5.199999999999999" fill="none"/><text transform="translate(151.1 1487.19) scale(1 1.04)" font-size="43" text-anchor="end">0.0</text><path d="M160.1 1344.47H176.6" stroke="#000" stroke-width="4.8" fill="none"/><text transform="translate(151.1 1360.67) scale(1 1.04)" font-size="43" text-anchor="end">0.5</text><path d="M160.1 1217.95H176.6" stroke="#000" stroke-width="4.8" fill="none"/><text transform="translate(151.1 1234.14) scale(1 1.04)" font-size="43" text-anchor="end">1.0</text><path d="M160.1 1091.42H176.6" stroke="#000" stroke-width="4.8" fill="none"/><text transform="translate(151.1 1107.62) scale(1 1.04)" font-size="43" text-anchor="end">1.5</text><path d="M160.1 964.9H176.6" stroke="#000" stroke-width="4.8" fill="none"/><text transform="translate(151.1 981.09) scale(1 1.04)" font-size="43" text-anchor="end">2.0</text><clipPath id="c6"><rect x="202.1" y="1239" width="101" height="232"/></clipPath><path d="M198.1 1219.06L307.1 1111.15M198.1 1244.26L307.1 1136.35M198.1 1269.46L307.1 1161.55M198.1 1294.66L307.1 1186.75M198.1 1319.86L307.1 1211.95M198.1 1345.06L307.1 1237.15M198.1 1370.26L307.1 1262.35M198.1 1395.46L307.1 1287.55M198.1 1420.66L307.1 1312.75M198.1 1445.86L307.1 1337.95M198.1 1471.06L307.1 1363.15M198.1 1496.26L307.1 1388.35M198.1 1521.46L307.1 1413.55M198.1 1546.66L307.1 1438.75M198.1 1571.86L307.1 1463.95" clip-path="url(#c6)" stroke="#000" stroke-width="4.4" fill="none"/><path d="M202.1 1471V1239H303.1V1471" stroke="#000" stroke-width="6.0" fill="none" stroke-linejoin="round"/><path d="M227.8 1227.4H277.4M227.8 1251H277.4" stroke="#000" stroke-width="5.4" stroke-linecap="round" fill="none"/><path d="M252.6 1227.4V1251" stroke="#000" stroke-width="5.6" fill="none"/><path d="M252.6 1471V1488" stroke="#000" stroke-width="4.8" fill="none"/><text transform="translate(269.3 1522.5) rotate(-45) scale(1 1.04)" font-size="42.6" text-anchor="end">Control</text><clipPath id="c7"><rect x="352.7" y="1131.8" width="101" height="339.2"/></clipPath><path d="M348.7 1110.56L457.7 1002.65M348.7 1135.76L457.7 1027.85M348.7 1160.96L457.7 1053.05M348.7 1186.16L457.7 1078.25M348.7 1211.36L457.7 1103.45M348.7 1236.56L457.7 1128.65M348.7 1261.76L457.7 1153.85M348.7 1286.96L457.7 1179.05M348.7 1312.16L457.7 1204.25M348.7 1337.36L457.7 1229.45M348.7 1362.56L457.7 1254.65M348.7 1387.76L457.7 1279.85M348.7 1412.96L457.7 1305.05M348.7 1438.16L457.7 1330.25M348.7 1463.36L457.7 1355.45M348.7 1488.56L457.7 1380.65M348.7 1513.76L457.7 1405.85M348.7 1538.96L457.7 1431.05M348.7 1564.16L457.7 1456.25" clip-path="url(#c7)" stroke="#000" stroke-width="4.4" fill="none"/><path d="M352.7 1471V1131.8H453.7V1471" stroke="#000" stroke-width="6.0" fill="none" stroke-linejoin="round"/><path d="M378.4 1112H428M378.4 1151H428" stroke="#000" stroke-width="5.4" stroke-linecap="round" fill="none"/><path d="M403.2 1112V1151" stroke="#000" stroke-width="5.6" fill="none"/><path d="M403.2 1471V1488" stroke="#000" stroke-width="4.8" fill="none"/><text transform="translate(425.5 1527.2) rotate(-45) scale(1 1.04)" font-size="42.6" text-anchor="end">I/R</text><clipPath id="c8"><rect x="503.3" y="1067.5" width="101" height="403.5"/></clipPath><path d="M499.3 1050.66L608.3 942.75M499.3 1075.86L608.3 967.95M499.3 1101.06L608.3 993.15M499.3 1126.26L608.3 1018.35M499.3 1151.46L608.3 1043.55M499.3 1176.66L608.3 1068.75M499.3 1201.86L608.3 1093.95M499.3 1227.06L608.3 1119.15M499.3 1252.26L608.3 1144.35M499.3 1277.46L608.3 1169.55M499.3 1302.66L608.3 1194.75M499.3 1327.86L608.3 1219.95M499.3 1353.06L608.3 1245.15M499.3 1378.26L608.3 1270.35M499.3 1403.46L608.3 1295.55M499.3 1428.66L608.3 1320.75M499.3 1453.86L608.3 1345.95M499.3 1479.06L608.3 1371.15M499.3 1504.26L608.3 1396.35M499.3 1529.46L608.3 1421.55M499.3 1554.66L608.3 1446.75M499.3 1579.86L608.3 1471.95" clip-path="url(#c8)" stroke="#000" stroke-width="4.4" fill="none"/><path d="M503.3 1471V1067.5H604.3V1471" stroke="#000" stroke-width="6.0" fill="none" stroke-linejoin="round"/><path d="M529 1047.6H578.6M529 1087.6H578.6" stroke="#000" stroke-width="5.4" stroke-linecap="round" fill="none"/><path d="M553.8 1047.6V1087.6" stroke="#000" stroke-width="5.6" fill="none"/><path d="M553.8 1471V1488" stroke="#000" stroke-width="4.8" fill="none"/><text transform="translate(571.3 1526.9) rotate(-45) scale(1 1.04)" font-size="42.6" text-anchor="end">Saline</text><clipPath id="c9"><rect x="654.1" y="1022" width="101" height="449"/></clipPath><path d="M650.1 1002.36L759.1 894.45M650.1 1027.56L759.1 919.65M650.1 1052.76L759.1 944.85M650.1 1077.96L759.1 970.05M650.1 1103.16L759.1 995.25M650.1 1128.36L759.1 1020.45M650.1 1153.56L759.1 1045.65M650.1 1178.76L759.1 1070.85M650.1 1203.96L759.1 1096.05M650.1 1229.16L759.1 1121.25M650.1 1254.36L759.1 1146.45M650.1 1279.56L759.1 1171.65M650.1 1304.76L759.1 1196.85M650.1 1329.96L759.1 1222.05M650.1 1355.16L759.1 1247.25M650.1 1380.36L759.1 1272.45M650.1 1405.56L759.1 1297.65M650.1 1430.76L759.1 1322.85M650.1 1455.96L759.1 1348.05M650.1 1481.16L759.1 1373.25M650.1 1506.36L759.1 1398.45M650.1 1531.56L759.1 1423.65M650.1 1556.76L759.1 1448.85M650.1 1581.96L759.1 1474.05" clip-path="url(#c9)" stroke="#000" stroke-width="4.4" fill="none"/><path d="M654.1 1471V1022H755.1V1471" stroke="#000" stroke-width="6.0" fill="none" stroke-linejoin="round"/><path d="M679.8 995.6H729.4M679.8 1048.9H729.4" stroke="#000" stroke-width="5.4" stroke-linecap="round" fill="none"/><path d="M704.6 995.6V1048.9" stroke="#000" stroke-width="5.6" fill="none"/><path d="M704.6 1471V1488" stroke="#000" stroke-width="4.8" fill="none"/><text transform="translate(717.6 1526.5) rotate(-45) scale(1 1.04)" font-size="42.6" text-anchor="end">Estradiol</text><clipPath id="c10"><rect x="805.3" y="1280.5" width="101" height="190.5"/></clipPath><path d="M801.3 1260.46L910.3 1152.55M801.3 1285.66L910.3 1177.75M801.3 1310.86L910.3 1202.95M801.3 1336.06L910.3 1228.15M801.3 1361.26L910.3 1253.35M801.3 1386.46L910.3 1278.55M801.3 1411.66L910.3 1303.75M801.3 1436.86L910.3 1328.95M801.3 1462.06L910.3 1354.15M801.3 1487.26L910.3 1379.35M801.3 1512.46L910.3 1404.55M801.3 1537.66L910.3 1429.75M801.3 1562.86L910.3 1454.95" clip-path="url(#c10)" stroke="#000" stroke-width="4.4" fill="none"/><path d="M805.3 1471V1280.5H906.3V1471" stroke="#000" stroke-width="6.0" fill="none" stroke-linejoin="round"/><path d="M831 1267.3H880.6M831 1294H880.6" stroke="#000" stroke-width="5.4" stroke-linecap="round" fill="none"/><path d="M855.8 1267.3V1294" stroke="#000" stroke-width="5.6" fill="none"/><path d="M855.8 1471V1488" stroke="#000" stroke-width="4.8" fill="none"/><text transform="translate(876.2 1527.9) rotate(-45) scale(1 1.04)" font-size="42.6" text-anchor="end">Inhibitor</text><text transform="translate(71.8 1217.6) rotate(-90) scale(1 1.04)" font-size="48.8" text-anchor="middle">Relative p-ERK level</text></g>
<g><path d="M1220.4 963.8V1472.7" stroke="#000" stroke-width="5.6" fill="none"/><path d="M1203.9 1471.9H1978" stroke="#000" stroke-width="5.199999999999999" fill="none"/><text transform="translate(1196.9 1488.79) scale(1 1.04)" font-size="43" text-anchor="end">0.0</text><path d="M1203.9 1304H1220.4" stroke="#000" stroke-width="4.8" fill="none"/><text transform="translate(1196.9 1320.09) scale(1 1.04)" font-size="43" text-anchor="end">0.5</text><path d="M1203.9 1135.3H1220.4" stroke="#000" stroke-width="4.8" fill="none"/><text transform="translate(1196.9 1151.39) scale(1 1.04)" font-size="43" text-anchor="end">1.0</text><path d="M1203.9 966.6H1220.4" stroke="#000" stroke-width="4.8" fill="none"/><text transform="translate(1196.9 982.69) scale(1 1.04)" font-size="43" text-anchor="end">1.5</text><clipPath id="c11"><rect x="1245.6" y="1124.7" width="101" height="348"/></clipPath><path d="M1241.6 1102.96L1350.6 995.05M1241.6 1128.16L1350.6 1020.25M1241.6 1153.36L1350.6 1045.45M1241.6 1178.56L1350.6 1070.65M1241.6 1203.76L1350.6 1095.85M1241.6 1228.96L1350.6 1121.05M1241.6 1254.16L1350.6 1146.25M1241.6 1279.36L1350.6 1171.45M1241.6 1304.56L1350.6 1196.65M1241.6 1329.76L1350.6 1221.85M1241.6 1354.96L1350.6 1247.05M1241.6 1380.16L1350.6 1272.25M1241.6 1405.36L1350.6 1297.45M1241.6 1430.56L1350.6 1322.65M1241.6 1455.76L1350.6 1347.85M1241.6 1480.96L1350.6 1373.05M1241.6 1506.16L1350.6 1398.25M1241.6 1531.36L1350.6 1423.45M1241.6 1556.56L1350.6 1448.65M1241.6 1581.76L1350.6 1473.85" clip-path="url(#c11)" stroke="#000" stroke-width="4.4" fill="none"/><path d="M1245.6 1472.7V1124.7H1346.6V1472.7" stroke="#000" stroke-width="6.0" fill="none" stroke-linejoin="round"/><path d="M1271.3 1104.5H1320.9M1271.3 1144.8H1320.9" stroke="#000" stroke-width="5.4" stroke-linecap="round" fill="none"/><path d="M1296.1 1104.5V1144.8" stroke="#000" stroke-width="5.6" fill="none"/><path d="M1296.1 1472.7V1489.7" stroke="#000" stroke-width="4.8" fill="none"/><text transform="translate(1301 1523.6) rotate(-45) scale(1 1.04)" font-size="42.6" text-anchor="end">Control</text><clipPath id="c12"><rect x="1396.9" y="1067.6" width="101" height="405.1"/></clipPath><path d="M1392.9 1049.66L1501.9 941.75M1392.9 1074.86L1501.9 966.95M1392.9 1100.06L1501.9 992.15M1392.9 1125.26L1501.9 1017.35M1392.9 1150.46L1501.9 1042.55M1392.9 1175.66L1501.9 1067.75M1392.9 1200.86L1501.9 1092.95M1392.9 1226.06L1501.9 1118.15M1392.9 1251.26L1501.9 1143.35M1392.9 1276.46L1501.9 1168.55M1392.9 1301.66L1501.9 1193.75M1392.9 1326.86L1501.9 1218.95M1392.9 1352.06L1501.9 1244.15M1392.9 1377.26L1501.9 1269.35M1392.9 1402.46L1501.9 1294.55M1392.9 1427.66L1501.9 1319.75M1392.9 1452.86L1501.9 1344.95M1392.9 1478.06L1501.9 1370.15M1392.9 1503.26L1501.9 1395.35M1392.9 1528.46L1501.9 1420.55M1392.9 1553.66L1501.9 1445.75M1392.9 1578.86L1501.9 1470.95" clip-path="url(#c12)" stroke="#000" stroke-width="4.4" fill="none"/><path d="M1396.9 1472.7V1067.6H1497.9V1472.7" stroke="#000" stroke-width="6.0" fill="none" stroke-linejoin="round"/><path d="M1422.6 1046.5H1472.2M1422.6 1089H1472.2" stroke="#000" stroke-width="5.4" stroke-linecap="round" fill="none"/><path d="M1447.4 1046.5V1089" stroke="#000" stroke-width="5.6" fill="none"/><path d="M1447.4 1472.7V1489.7" stroke="#000" stroke-width="4.8" fill="none"/><text transform="translate(1470.4 1522.9) rotate(-45) scale(1 1.04)" font-size="42.6" text-anchor="end">I/R</text><clipPath id="c13"><rect x="1549.1" y="1054.5" width="101" height="418.2"/></clipPath><path d="M1545.1 1035.46L1654.1 927.55M1545.1 1060.66L1654.1 952.75M1545.1 1085.86L1654.1 977.95M1545.1 1111.06L1654.1 1003.15M1545.1 1136.26L1654.1 1028.35M1545.1 1161.46L1654.1 1053.55M1545.1 1186.66L1654.1 1078.75M1545.1 1211.86L1654.1 1103.95M1545.1 1237.06L1654.1 1129.15M1545.1 1262.26L1654.1 1154.35M1545.1 1287.46L1654.1 1179.55M1545.1 1312.66L1654.1 1204.75M1545.1 1337.86L1654.1 1229.95M1545.1 1363.06L1654.1 1255.15M1545.1 1388.26L1654.1 1280.35M1545.1 1413.46L1654.1 1305.55M1545.1 1438.66L1654.1 1330.75M1545.1 1463.86L1654.1 1355.95M1545.1 1489.06L1654.1 1381.15M1545.1 1514.26L1654.1 1406.35M1545.1 1539.46L1654.1 1431.55M1545.1 1564.66L1654.1 1456.75" clip-path="url(#c13)" stroke="#000" stroke-width="4.4" fill="none"/><path d="M1549.1 1472.7V1054.5H1650.1V1472.7" stroke="#000" stroke-width="6.0" fill="none" stroke-linejoin="round"/><path d="M1574.8 1032.6H1624.4M1574.8 1077.1H1624.4" stroke="#000" stroke-width="5.4" stroke-linecap="round" fill="none"/><path d="M1599.6 1032.6V1077.1" stroke="#000" stroke-width="5.6" fill="none"/><path d="M1599.6 1472.7V1489.7" stroke="#000" stroke-width="4.8" fill="none"/><text transform="translate(1618.2 1523.6) rotate(-45) scale(1 1.04)" font-size="42.6" text-anchor="end">Saline</text><clipPath id="c14"><rect x="1700.3" y="1212.6" width="101" height="260.1"/></clipPath><path d="M1696.3 1195.26L1805.3 1087.35M1696.3 1220.46L1805.3 1112.55M1696.3 1245.66L1805.3 1137.75M1696.3 1270.86L1805.3 1162.95M1696.3 1296.06L1805.3 1188.15M1696.3 1321.26L1805.3 1213.35M1696.3 1346.46L1805.3 1238.55M1696.3 1371.66L1805.3 1263.75M1696.3 1396.86L1805.3 1288.95M1696.3 1422.06L1805.3 1314.15M1696.3 1447.26L1805.3 1339.35M1696.3 1472.46L1805.3 1364.55M1696.3 1497.66L1805.3 1389.75M1696.3 1522.86L1805.3 1414.95M1696.3 1548.06L1805.3 1440.15M1696.3 1573.26L1805.3 1465.35" clip-path="url(#c14)" stroke="#000" stroke-width="4.4" fill="none"/><path d="M1700.3 1472.7V1212.6H1801.3V1472.7" stroke="#000" stroke-width="6.0" fill="none" stroke-linejoin="round"/><path d="M1726 1196.5H1775.6M1726 1228.5H1775.6" stroke="#000" stroke-width="5.4" stroke-linecap="round" fill="none"/><path d="M1750.8 1196.5V1228.5" stroke="#000" stroke-width="5.6" fill="none"/><path d="M1750.8 1472.7V1489.7" stroke="#000" stroke-width="4.8" fill="none"/><text transform="translate(1755.4 1523.6) rotate(-45) scale(1 1.04)" font-size="42.6" text-anchor="end">Estradiol</text><clipPath id="c15"><rect x="1852" y="1207" width="101" height="265.7"/></clipPath><path d="M1848 1187.56L1957 1079.65M1848 1212.76L1957 1104.85M1848 1237.96L1957 1130.05M1848 1263.16L1957 1155.25M1848 1288.36L1957 1180.45M1848 1313.56L1957 1205.65M1848 1338.76L1957 1230.85M1848 1363.96L1957 1256.05M1848 1389.16L1957 1281.25M1848 1414.36L1957 1306.45M1848 1439.56L1957 1331.65M1848 1464.76L1957 1356.85M1848 1489.96L1957 1382.05M1848 1515.16L1957 1407.25M1848 1540.36L1957 1432.45M1848 1565.56L1957 1457.65" clip-path="url(#c15)" stroke="#000" stroke-width="4.4" fill="none"/><path d="M1852 1472.7V1207H1953V1472.7" stroke="#000" stroke-width="6.0" fill="none" stroke-linejoin="round"/><path d="M1877.7 1205H1927.3M1877.7 1209H1927.3" stroke="#000" stroke-width="5.4" stroke-linecap="round" fill="none"/><path d="M1902.5 1205V1209" stroke="#000" stroke-width="5.6" fill="none"/><path d="M1902.5 1472.7V1489.7" stroke="#000" stroke-width="4.8" fill="none"/><text transform="translate(1928.2 1524.2) rotate(-45) scale(1 1.04)" font-size="42.6" text-anchor="end">Inhibitor</text><text transform="translate(1118 1208) rotate(-90) scale(1 1.04)" font-size="48.8" text-anchor="middle">Relative MKP-1 level</text></g>
</g>
</svg></body></html>
